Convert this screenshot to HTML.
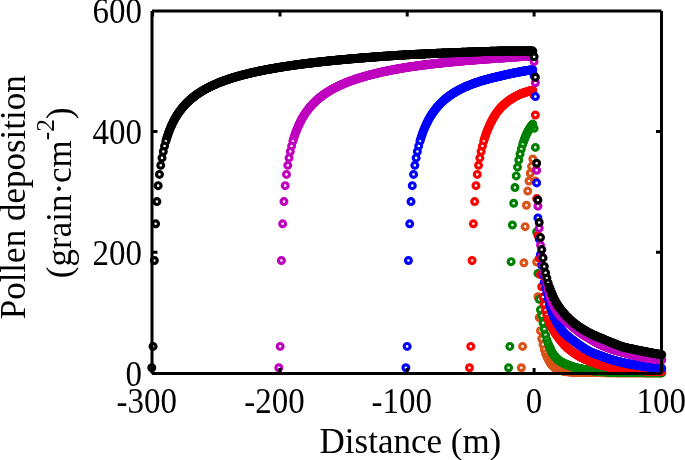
<!DOCTYPE html>
<html><head><meta charset="utf-8"><style>
html,body{margin:0;padding:0;background:#fff;width:685px;height:460px;overflow:hidden}
svg{display:block}
text{font-family:"Liberation Serif",serif;fill:#000}
</style></head><body>
<svg width="685" height="460" viewBox="0 0 685 460">
<rect width="685" height="460" fill="#fff"/>
<g fill="#fff" stroke-width="3.2">
<g stroke="#d95319"><circle cx="534.10" cy="164.19" r="2.9"/><circle cx="535.38" cy="181.09" r="2.9"/><circle cx="536.65" cy="261.96" r="2.9"/><circle cx="537.93" cy="296.72" r="2.9"/><circle cx="539.21" cy="317.48" r="2.9"/><circle cx="540.48" cy="330.75" r="2.9"/><circle cx="541.76" cy="338.72" r="2.9"/><circle cx="543.03" cy="344.58" r="2.9"/><circle cx="544.31" cy="349.83" r="2.9"/><circle cx="545.59" cy="353.64" r="2.9"/><circle cx="546.86" cy="356.71" r="2.9"/><circle cx="548.14" cy="359.32" r="2.9"/><circle cx="549.42" cy="361.53" r="2.9"/><circle cx="550.05" cy="362.53" r="2.9"/><circle cx="550.69" cy="363.45" r="2.9"/><circle cx="551.33" cy="364.30" r="2.9"/><circle cx="551.97" cy="365.07" r="2.9"/><circle cx="552.61" cy="365.76" r="2.9"/><circle cx="553.24" cy="366.36" r="2.9"/><circle cx="553.88" cy="366.90" r="2.9"/><circle cx="554.52" cy="367.38" r="2.9"/><circle cx="555.16" cy="367.82" r="2.9"/><circle cx="555.80" cy="368.22" r="2.9"/><circle cx="556.44" cy="368.59" r="2.9"/><circle cx="557.07" cy="368.92" r="2.9"/><circle cx="557.71" cy="369.22" r="2.9"/><circle cx="558.35" cy="369.50" r="2.9"/><circle cx="558.99" cy="369.75" r="2.9"/><circle cx="559.63" cy="369.98" r="2.9"/><circle cx="560.26" cy="370.20" r="2.9"/><circle cx="560.90" cy="370.40" r="2.9"/><circle cx="561.54" cy="370.58" r="2.9"/><circle cx="562.18" cy="370.75" r="2.9"/><circle cx="562.82" cy="370.91" r="2.9"/><circle cx="563.45" cy="371.05" r="2.9"/><circle cx="564.09" cy="371.18" r="2.9"/><circle cx="564.73" cy="371.29" r="2.9"/><circle cx="565.37" cy="371.40" r="2.9"/><circle cx="566.01" cy="371.49" r="2.9"/><circle cx="566.65" cy="371.58" r="2.9"/><circle cx="567.28" cy="371.66" r="2.9"/><circle cx="567.92" cy="371.74" r="2.9"/><circle cx="568.56" cy="371.81" r="2.9"/><circle cx="569.20" cy="371.87" r="2.9"/><circle cx="569.84" cy="371.93" r="2.9"/><circle cx="570.47" cy="371.98" r="2.9"/><circle cx="571.11" cy="372.03" r="2.9"/><circle cx="571.75" cy="372.06" r="2.9"/><circle cx="572.39" cy="372.09" r="2.9"/><circle cx="573.03" cy="372.12" r="2.9"/><circle cx="573.67" cy="372.15" r="2.9"/><circle cx="574.30" cy="372.17" r="2.9"/><circle cx="574.94" cy="372.19" r="2.9"/><circle cx="575.58" cy="372.22" r="2.9"/><circle cx="576.22" cy="372.24" r="2.9"/><circle cx="576.86" cy="372.26" r="2.9"/><circle cx="577.49" cy="372.27" r="2.9"/><circle cx="578.13" cy="372.29" r="2.9"/><circle cx="578.77" cy="372.31" r="2.9"/><circle cx="579.41" cy="372.32" r="2.9"/><circle cx="580.05" cy="372.34" r="2.9"/><circle cx="580.68" cy="372.35" r="2.9"/><circle cx="581.32" cy="372.37" r="2.9"/><circle cx="581.96" cy="372.38" r="2.9"/><circle cx="582.60" cy="372.39" r="2.9"/><circle cx="583.24" cy="372.40" r="2.9"/><circle cx="583.88" cy="372.41" r="2.9"/><circle cx="584.51" cy="372.42" r="2.9"/><circle cx="585.15" cy="372.44" r="2.9"/><circle cx="585.79" cy="372.45" r="2.9"/><circle cx="586.43" cy="372.45" r="2.9"/><circle cx="587.07" cy="372.46" r="2.9"/><circle cx="587.70" cy="372.47" r="2.9"/><circle cx="588.34" cy="372.48" r="2.9"/><circle cx="588.98" cy="372.49" r="2.9"/><circle cx="589.62" cy="372.50" r="2.9"/><circle cx="590.26" cy="372.50" r="2.9"/><circle cx="590.90" cy="372.51" r="2.9"/><circle cx="591.53" cy="372.52" r="2.9"/><circle cx="592.17" cy="372.52" r="2.9"/><circle cx="592.81" cy="372.53" r="2.9"/><circle cx="593.45" cy="372.54" r="2.9"/><circle cx="594.09" cy="372.54" r="2.9"/><circle cx="594.72" cy="372.55" r="2.9"/><circle cx="595.36" cy="372.56" r="2.9"/><circle cx="596.00" cy="372.56" r="2.9"/><circle cx="596.64" cy="372.57" r="2.9"/><circle cx="597.28" cy="372.57" r="2.9"/><circle cx="597.91" cy="372.58" r="2.9"/><circle cx="598.55" cy="372.58" r="2.9"/><circle cx="599.19" cy="372.59" r="2.9"/><circle cx="599.83" cy="372.59" r="2.9"/><circle cx="600.47" cy="372.60" r="2.9"/><circle cx="601.11" cy="372.60" r="2.9"/><circle cx="601.74" cy="372.61" r="2.9"/><circle cx="602.38" cy="372.61" r="2.9"/><circle cx="603.02" cy="372.62" r="2.9"/><circle cx="603.66" cy="372.62" r="2.9"/><circle cx="604.30" cy="372.63" r="2.9"/><circle cx="604.93" cy="372.63" r="2.9"/><circle cx="605.57" cy="372.64" r="2.9"/><circle cx="606.21" cy="372.64" r="2.9"/><circle cx="606.85" cy="372.64" r="2.9"/><circle cx="607.49" cy="372.65" r="2.9"/><circle cx="608.13" cy="372.65" r="2.9"/><circle cx="608.76" cy="372.66" r="2.9"/><circle cx="609.40" cy="372.66" r="2.9"/><circle cx="610.04" cy="372.67" r="2.9"/><circle cx="610.68" cy="372.67" r="2.9"/><circle cx="611.32" cy="372.67" r="2.9"/><circle cx="611.95" cy="372.68" r="2.9"/><circle cx="612.59" cy="372.68" r="2.9"/><circle cx="613.23" cy="372.68" r="2.9"/><circle cx="613.87" cy="372.69" r="2.9"/><circle cx="614.51" cy="372.69" r="2.9"/><circle cx="615.15" cy="372.69" r="2.9"/><circle cx="615.78" cy="372.70" r="2.9"/><circle cx="616.42" cy="372.70" r="2.9"/><circle cx="617.06" cy="372.71" r="2.9"/><circle cx="617.70" cy="372.71" r="2.9"/><circle cx="618.34" cy="372.71" r="2.9"/><circle cx="618.97" cy="372.71" r="2.9"/><circle cx="619.61" cy="372.72" r="2.9"/><circle cx="620.25" cy="372.72" r="2.9"/><circle cx="620.89" cy="372.72" r="2.9"/><circle cx="621.53" cy="372.73" r="2.9"/><circle cx="622.16" cy="372.73" r="2.9"/><circle cx="622.80" cy="372.73" r="2.9"/><circle cx="623.44" cy="372.74" r="2.9"/><circle cx="624.08" cy="372.74" r="2.9"/><circle cx="624.72" cy="372.74" r="2.9"/><circle cx="625.36" cy="372.74" r="2.9"/><circle cx="625.99" cy="372.75" r="2.9"/><circle cx="626.63" cy="372.75" r="2.9"/><circle cx="627.27" cy="372.75" r="2.9"/><circle cx="627.91" cy="372.75" r="2.9"/><circle cx="628.55" cy="372.76" r="2.9"/><circle cx="629.18" cy="372.76" r="2.9"/><circle cx="629.82" cy="372.76" r="2.9"/><circle cx="630.46" cy="372.76" r="2.9"/><circle cx="631.10" cy="372.76" r="2.9"/><circle cx="631.74" cy="372.77" r="2.9"/><circle cx="632.38" cy="372.77" r="2.9"/><circle cx="633.01" cy="372.77" r="2.9"/><circle cx="633.65" cy="372.77" r="2.9"/><circle cx="634.29" cy="372.78" r="2.9"/><circle cx="634.93" cy="372.78" r="2.9"/><circle cx="635.57" cy="372.78" r="2.9"/><circle cx="636.20" cy="372.78" r="2.9"/><circle cx="636.84" cy="372.78" r="2.9"/><circle cx="637.48" cy="372.78" r="2.9"/><circle cx="638.12" cy="372.79" r="2.9"/><circle cx="638.76" cy="372.79" r="2.9"/><circle cx="639.39" cy="372.79" r="2.9"/><circle cx="640.03" cy="372.79" r="2.9"/><circle cx="640.67" cy="372.79" r="2.9"/><circle cx="641.31" cy="372.79" r="2.9"/><circle cx="641.95" cy="372.79" r="2.9"/><circle cx="642.59" cy="372.80" r="2.9"/><circle cx="643.22" cy="372.80" r="2.9"/><circle cx="643.86" cy="372.80" r="2.9"/><circle cx="644.50" cy="372.80" r="2.9"/><circle cx="645.14" cy="372.80" r="2.9"/><circle cx="645.78" cy="372.80" r="2.9"/><circle cx="646.41" cy="372.80" r="2.9"/><circle cx="647.05" cy="372.80" r="2.9"/><circle cx="647.69" cy="372.81" r="2.9"/><circle cx="648.33" cy="372.81" r="2.9"/><circle cx="648.97" cy="372.81" r="2.9"/><circle cx="649.61" cy="372.81" r="2.9"/><circle cx="650.24" cy="372.81" r="2.9"/><circle cx="650.88" cy="372.81" r="2.9"/><circle cx="651.52" cy="372.81" r="2.9"/><circle cx="652.16" cy="372.81" r="2.9"/><circle cx="652.80" cy="372.81" r="2.9"/><circle cx="653.43" cy="372.81" r="2.9"/><circle cx="654.07" cy="372.81" r="2.9"/><circle cx="654.71" cy="372.81" r="2.9"/><circle cx="655.35" cy="372.82" r="2.9"/><circle cx="655.99" cy="372.82" r="2.9"/><circle cx="656.62" cy="372.82" r="2.9"/><circle cx="657.26" cy="372.82" r="2.9"/><circle cx="657.90" cy="372.82" r="2.9"/><circle cx="658.54" cy="372.82" r="2.9"/><circle cx="659.18" cy="372.82" r="2.9"/><circle cx="659.82" cy="372.82" r="2.9"/><circle cx="660.45" cy="372.82" r="2.9"/><circle cx="661.09" cy="372.82" r="2.9"/><circle cx="661.73" cy="372.82" r="2.9"/><circle cx="532.82" cy="159.02" r="2.9"/><circle cx="531.55" cy="166.33" r="2.9"/><circle cx="530.27" cy="173.22" r="2.9"/><circle cx="528.99" cy="181.05" r="2.9"/><circle cx="527.72" cy="191.08" r="2.9"/><circle cx="526.44" cy="205.23" r="2.9"/><circle cx="525.17" cy="226.65" r="2.9"/><circle cx="523.89" cy="262.86" r="2.9"/><circle cx="522.61" cy="346.39" r="2.9"/><circle cx="521.34" cy="367.75" r="2.9"/></g>
<g stroke="#008000"><circle cx="534.10" cy="128.34" r="2.9"/><circle cx="535.38" cy="147.41" r="2.9"/><circle cx="536.65" cy="232.02" r="2.9"/><circle cx="537.93" cy="273.42" r="2.9"/><circle cx="539.21" cy="299.37" r="2.9"/><circle cx="540.48" cy="309.63" r="2.9"/><circle cx="541.76" cy="315.67" r="2.9"/><circle cx="543.03" cy="322.79" r="2.9"/><circle cx="544.31" cy="329.00" r="2.9"/><circle cx="545.59" cy="335.10" r="2.9"/><circle cx="546.86" cy="339.69" r="2.9"/><circle cx="548.14" cy="343.31" r="2.9"/><circle cx="549.42" cy="346.45" r="2.9"/><circle cx="550.05" cy="347.96" r="2.9"/><circle cx="550.69" cy="349.44" r="2.9"/><circle cx="551.33" cy="350.83" r="2.9"/><circle cx="551.97" cy="352.11" r="2.9"/><circle cx="552.61" cy="353.27" r="2.9"/><circle cx="553.24" cy="354.29" r="2.9"/><circle cx="553.88" cy="355.18" r="2.9"/><circle cx="554.52" cy="355.97" r="2.9"/><circle cx="555.16" cy="356.69" r="2.9"/><circle cx="555.80" cy="357.38" r="2.9"/><circle cx="556.44" cy="358.04" r="2.9"/><circle cx="557.07" cy="358.70" r="2.9"/><circle cx="557.71" cy="359.32" r="2.9"/><circle cx="558.35" cy="359.91" r="2.9"/><circle cx="558.99" cy="360.45" r="2.9"/><circle cx="559.63" cy="360.93" r="2.9"/><circle cx="560.26" cy="361.36" r="2.9"/><circle cx="560.90" cy="361.76" r="2.9"/><circle cx="561.54" cy="362.12" r="2.9"/><circle cx="562.18" cy="362.47" r="2.9"/><circle cx="562.82" cy="362.79" r="2.9"/><circle cx="563.45" cy="363.10" r="2.9"/><circle cx="564.09" cy="363.39" r="2.9"/><circle cx="564.73" cy="363.68" r="2.9"/><circle cx="565.37" cy="363.97" r="2.9"/><circle cx="566.01" cy="364.25" r="2.9"/><circle cx="566.65" cy="364.53" r="2.9"/><circle cx="567.28" cy="364.80" r="2.9"/><circle cx="567.92" cy="365.06" r="2.9"/><circle cx="568.56" cy="365.31" r="2.9"/><circle cx="569.20" cy="365.55" r="2.9"/><circle cx="569.84" cy="365.79" r="2.9"/><circle cx="570.47" cy="366.02" r="2.9"/><circle cx="571.11" cy="366.24" r="2.9"/><circle cx="571.75" cy="366.46" r="2.9"/><circle cx="572.39" cy="366.66" r="2.9"/><circle cx="573.03" cy="366.86" r="2.9"/><circle cx="573.67" cy="367.06" r="2.9"/><circle cx="574.30" cy="367.25" r="2.9"/><circle cx="574.94" cy="367.43" r="2.9"/><circle cx="575.58" cy="367.61" r="2.9"/><circle cx="576.22" cy="367.78" r="2.9"/><circle cx="576.86" cy="367.94" r="2.9"/><circle cx="577.49" cy="368.10" r="2.9"/><circle cx="578.13" cy="368.26" r="2.9"/><circle cx="578.77" cy="368.41" r="2.9"/><circle cx="579.41" cy="368.56" r="2.9"/><circle cx="580.05" cy="368.70" r="2.9"/><circle cx="580.68" cy="368.83" r="2.9"/><circle cx="581.32" cy="368.97" r="2.9"/><circle cx="581.96" cy="369.10" r="2.9"/><circle cx="582.60" cy="369.22" r="2.9"/><circle cx="583.24" cy="369.34" r="2.9"/><circle cx="583.88" cy="369.46" r="2.9"/><circle cx="584.51" cy="369.57" r="2.9"/><circle cx="585.15" cy="369.68" r="2.9"/><circle cx="585.79" cy="369.79" r="2.9"/><circle cx="586.43" cy="369.89" r="2.9"/><circle cx="587.07" cy="369.99" r="2.9"/><circle cx="587.70" cy="370.09" r="2.9"/><circle cx="588.34" cy="370.19" r="2.9"/><circle cx="588.98" cy="370.28" r="2.9"/><circle cx="589.62" cy="370.38" r="2.9"/><circle cx="590.26" cy="370.46" r="2.9"/><circle cx="590.90" cy="370.55" r="2.9"/><circle cx="591.53" cy="370.63" r="2.9"/><circle cx="592.17" cy="370.71" r="2.9"/><circle cx="592.81" cy="370.79" r="2.9"/><circle cx="593.45" cy="370.86" r="2.9"/><circle cx="594.09" cy="370.93" r="2.9"/><circle cx="594.72" cy="371.00" r="2.9"/><circle cx="595.36" cy="371.06" r="2.9"/><circle cx="596.00" cy="371.13" r="2.9"/><circle cx="596.64" cy="371.19" r="2.9"/><circle cx="597.28" cy="371.24" r="2.9"/><circle cx="597.91" cy="371.30" r="2.9"/><circle cx="598.55" cy="371.35" r="2.9"/><circle cx="599.19" cy="371.40" r="2.9"/><circle cx="599.83" cy="371.45" r="2.9"/><circle cx="600.47" cy="371.49" r="2.9"/><circle cx="601.11" cy="371.53" r="2.9"/><circle cx="601.74" cy="371.58" r="2.9"/><circle cx="602.38" cy="371.62" r="2.9"/><circle cx="603.02" cy="371.66" r="2.9"/><circle cx="603.66" cy="371.70" r="2.9"/><circle cx="604.30" cy="371.73" r="2.9"/><circle cx="604.93" cy="371.77" r="2.9"/><circle cx="605.57" cy="371.80" r="2.9"/><circle cx="606.21" cy="371.84" r="2.9"/><circle cx="606.85" cy="371.87" r="2.9"/><circle cx="607.49" cy="371.90" r="2.9"/><circle cx="608.13" cy="371.93" r="2.9"/><circle cx="608.76" cy="371.96" r="2.9"/><circle cx="609.40" cy="371.99" r="2.9"/><circle cx="610.04" cy="372.02" r="2.9"/><circle cx="610.68" cy="372.05" r="2.9"/><circle cx="611.32" cy="372.07" r="2.9"/><circle cx="611.95" cy="372.10" r="2.9"/><circle cx="612.59" cy="372.12" r="2.9"/><circle cx="613.23" cy="372.14" r="2.9"/><circle cx="613.87" cy="372.17" r="2.9"/><circle cx="614.51" cy="372.19" r="2.9"/><circle cx="615.15" cy="372.21" r="2.9"/><circle cx="615.78" cy="372.23" r="2.9"/><circle cx="616.42" cy="372.25" r="2.9"/><circle cx="617.06" cy="372.26" r="2.9"/><circle cx="617.70" cy="372.28" r="2.9"/><circle cx="618.34" cy="372.30" r="2.9"/><circle cx="618.97" cy="372.31" r="2.9"/><circle cx="619.61" cy="372.32" r="2.9"/><circle cx="620.25" cy="372.34" r="2.9"/><circle cx="620.89" cy="372.35" r="2.9"/><circle cx="621.53" cy="372.36" r="2.9"/><circle cx="622.16" cy="372.38" r="2.9"/><circle cx="622.80" cy="372.39" r="2.9"/><circle cx="623.44" cy="372.40" r="2.9"/><circle cx="624.08" cy="372.41" r="2.9"/><circle cx="624.72" cy="372.42" r="2.9"/><circle cx="625.36" cy="372.43" r="2.9"/><circle cx="625.99" cy="372.43" r="2.9"/><circle cx="626.63" cy="372.44" r="2.9"/><circle cx="627.27" cy="372.45" r="2.9"/><circle cx="627.91" cy="372.46" r="2.9"/><circle cx="628.55" cy="372.47" r="2.9"/><circle cx="629.18" cy="372.48" r="2.9"/><circle cx="629.82" cy="372.49" r="2.9"/><circle cx="630.46" cy="372.49" r="2.9"/><circle cx="631.10" cy="372.50" r="2.9"/><circle cx="631.74" cy="372.51" r="2.9"/><circle cx="632.38" cy="372.52" r="2.9"/><circle cx="633.01" cy="372.52" r="2.9"/><circle cx="633.65" cy="372.53" r="2.9"/><circle cx="634.29" cy="372.54" r="2.9"/><circle cx="634.93" cy="372.55" r="2.9"/><circle cx="635.57" cy="372.55" r="2.9"/><circle cx="636.20" cy="372.56" r="2.9"/><circle cx="636.84" cy="372.56" r="2.9"/><circle cx="637.48" cy="372.57" r="2.9"/><circle cx="638.12" cy="372.58" r="2.9"/><circle cx="638.76" cy="372.58" r="2.9"/><circle cx="639.39" cy="372.59" r="2.9"/><circle cx="640.03" cy="372.59" r="2.9"/><circle cx="640.67" cy="372.60" r="2.9"/><circle cx="641.31" cy="372.60" r="2.9"/><circle cx="641.95" cy="372.61" r="2.9"/><circle cx="642.59" cy="372.61" r="2.9"/><circle cx="643.22" cy="372.62" r="2.9"/><circle cx="643.86" cy="372.62" r="2.9"/><circle cx="644.50" cy="372.63" r="2.9"/><circle cx="645.14" cy="372.63" r="2.9"/><circle cx="645.78" cy="372.64" r="2.9"/><circle cx="646.41" cy="372.64" r="2.9"/><circle cx="647.05" cy="372.64" r="2.9"/><circle cx="647.69" cy="372.65" r="2.9"/><circle cx="648.33" cy="372.65" r="2.9"/><circle cx="648.97" cy="372.66" r="2.9"/><circle cx="649.61" cy="372.66" r="2.9"/><circle cx="650.24" cy="372.66" r="2.9"/><circle cx="650.88" cy="372.67" r="2.9"/><circle cx="651.52" cy="372.67" r="2.9"/><circle cx="652.16" cy="372.67" r="2.9"/><circle cx="652.80" cy="372.67" r="2.9"/><circle cx="653.43" cy="372.68" r="2.9"/><circle cx="654.07" cy="372.68" r="2.9"/><circle cx="654.71" cy="372.68" r="2.9"/><circle cx="655.35" cy="372.68" r="2.9"/><circle cx="655.99" cy="372.69" r="2.9"/><circle cx="656.62" cy="372.69" r="2.9"/><circle cx="657.26" cy="372.69" r="2.9"/><circle cx="657.90" cy="372.69" r="2.9"/><circle cx="658.54" cy="372.69" r="2.9"/><circle cx="659.18" cy="372.69" r="2.9"/><circle cx="659.82" cy="372.70" r="2.9"/><circle cx="660.45" cy="372.70" r="2.9"/><circle cx="661.09" cy="372.70" r="2.9"/><circle cx="661.73" cy="372.70" r="2.9"/><circle cx="532.82" cy="124.07" r="2.9"/><circle cx="532.19" cy="124.85" r="2.9"/><circle cx="531.55" cy="125.67" r="2.9"/><circle cx="530.91" cy="126.54" r="2.9"/><circle cx="530.27" cy="127.45" r="2.9"/><circle cx="529.63" cy="128.41" r="2.9"/><circle cx="528.99" cy="129.43" r="2.9"/><circle cx="528.36" cy="130.51" r="2.9"/><circle cx="527.72" cy="131.64" r="2.9"/><circle cx="527.08" cy="132.96" r="2.9"/><circle cx="526.44" cy="134.34" r="2.9"/><circle cx="525.80" cy="135.80" r="2.9"/><circle cx="525.17" cy="137.35" r="2.9"/><circle cx="524.53" cy="139.00" r="2.9"/><circle cx="523.89" cy="140.74" r="2.9"/><circle cx="523.25" cy="142.60" r="2.9"/><circle cx="522.61" cy="144.58" r="2.9"/><circle cx="521.34" cy="148.97" r="2.9"/><circle cx="520.06" cy="153.95" r="2.9"/><circle cx="518.78" cy="160.12" r="2.9"/><circle cx="517.51" cy="167.18" r="2.9"/><circle cx="516.23" cy="175.92" r="2.9"/><circle cx="514.96" cy="187.45" r="2.9"/><circle cx="513.68" cy="203.30" r="2.9"/><circle cx="512.40" cy="225.02" r="2.9"/><circle cx="511.13" cy="261.65" r="2.9"/><circle cx="509.85" cy="346.39" r="2.9"/><circle cx="508.57" cy="367.75" r="2.9"/></g>
<g stroke="#ff0000"><circle cx="534.10" cy="95.39" r="2.9"/><circle cx="535.38" cy="115.00" r="2.9"/><circle cx="536.65" cy="198.59" r="2.9"/><circle cx="537.93" cy="235.40" r="2.9"/><circle cx="539.21" cy="258.33" r="2.9"/><circle cx="540.48" cy="274.63" r="2.9"/><circle cx="541.76" cy="286.70" r="2.9"/><circle cx="543.03" cy="296.96" r="2.9"/><circle cx="544.31" cy="304.20" r="2.9"/><circle cx="545.59" cy="310.24" r="2.9"/><circle cx="546.86" cy="315.06" r="2.9"/><circle cx="548.14" cy="318.99" r="2.9"/><circle cx="549.42" cy="322.31" r="2.9"/><circle cx="550.05" cy="323.76" r="2.9"/><circle cx="550.69" cy="325.12" r="2.9"/><circle cx="551.33" cy="326.39" r="2.9"/><circle cx="551.97" cy="327.60" r="2.9"/><circle cx="552.61" cy="328.74" r="2.9"/><circle cx="553.24" cy="329.85" r="2.9"/><circle cx="553.88" cy="330.92" r="2.9"/><circle cx="554.52" cy="331.96" r="2.9"/><circle cx="555.16" cy="332.98" r="2.9"/><circle cx="555.80" cy="333.95" r="2.9"/><circle cx="556.44" cy="334.89" r="2.9"/><circle cx="557.07" cy="335.79" r="2.9"/><circle cx="557.71" cy="336.67" r="2.9"/><circle cx="558.35" cy="337.53" r="2.9"/><circle cx="558.99" cy="338.37" r="2.9"/><circle cx="559.63" cy="339.20" r="2.9"/><circle cx="560.26" cy="340.02" r="2.9"/><circle cx="560.90" cy="340.83" r="2.9"/><circle cx="561.54" cy="341.62" r="2.9"/><circle cx="562.18" cy="342.39" r="2.9"/><circle cx="562.82" cy="343.14" r="2.9"/><circle cx="563.45" cy="343.87" r="2.9"/><circle cx="564.09" cy="344.57" r="2.9"/><circle cx="564.73" cy="345.24" r="2.9"/><circle cx="565.37" cy="345.89" r="2.9"/><circle cx="566.01" cy="346.51" r="2.9"/><circle cx="566.65" cy="347.12" r="2.9"/><circle cx="567.28" cy="347.71" r="2.9"/><circle cx="567.92" cy="348.28" r="2.9"/><circle cx="568.56" cy="348.84" r="2.9"/><circle cx="569.20" cy="349.38" r="2.9"/><circle cx="569.84" cy="349.91" r="2.9"/><circle cx="570.47" cy="350.42" r="2.9"/><circle cx="571.11" cy="350.92" r="2.9"/><circle cx="571.75" cy="351.40" r="2.9"/><circle cx="572.39" cy="351.88" r="2.9"/><circle cx="573.03" cy="352.34" r="2.9"/><circle cx="573.67" cy="352.79" r="2.9"/><circle cx="574.30" cy="353.23" r="2.9"/><circle cx="574.94" cy="353.65" r="2.9"/><circle cx="575.58" cy="354.07" r="2.9"/><circle cx="576.22" cy="354.47" r="2.9"/><circle cx="576.86" cy="354.87" r="2.9"/><circle cx="577.49" cy="355.25" r="2.9"/><circle cx="578.13" cy="355.63" r="2.9"/><circle cx="578.77" cy="355.99" r="2.9"/><circle cx="579.41" cy="356.35" r="2.9"/><circle cx="580.05" cy="356.71" r="2.9"/><circle cx="580.68" cy="357.05" r="2.9"/><circle cx="581.32" cy="357.38" r="2.9"/><circle cx="581.96" cy="357.71" r="2.9"/><circle cx="582.60" cy="358.02" r="2.9"/><circle cx="583.24" cy="358.33" r="2.9"/><circle cx="583.88" cy="358.63" r="2.9"/><circle cx="584.51" cy="358.93" r="2.9"/><circle cx="585.15" cy="359.22" r="2.9"/><circle cx="585.79" cy="359.50" r="2.9"/><circle cx="586.43" cy="359.78" r="2.9"/><circle cx="587.07" cy="360.05" r="2.9"/><circle cx="587.70" cy="360.32" r="2.9"/><circle cx="588.34" cy="360.58" r="2.9"/><circle cx="588.98" cy="360.84" r="2.9"/><circle cx="589.62" cy="361.09" r="2.9"/><circle cx="590.26" cy="361.34" r="2.9"/><circle cx="590.90" cy="361.59" r="2.9"/><circle cx="591.53" cy="361.84" r="2.9"/><circle cx="592.17" cy="362.08" r="2.9"/><circle cx="592.81" cy="362.32" r="2.9"/><circle cx="593.45" cy="362.55" r="2.9"/><circle cx="594.09" cy="362.78" r="2.9"/><circle cx="594.72" cy="363.01" r="2.9"/><circle cx="595.36" cy="363.24" r="2.9"/><circle cx="596.00" cy="363.45" r="2.9"/><circle cx="596.64" cy="363.67" r="2.9"/><circle cx="597.28" cy="363.88" r="2.9"/><circle cx="597.91" cy="364.08" r="2.9"/><circle cx="598.55" cy="364.28" r="2.9"/><circle cx="599.19" cy="364.48" r="2.9"/><circle cx="599.83" cy="364.67" r="2.9"/><circle cx="600.47" cy="364.85" r="2.9"/><circle cx="601.11" cy="365.03" r="2.9"/><circle cx="601.74" cy="365.21" r="2.9"/><circle cx="602.38" cy="365.38" r="2.9"/><circle cx="603.02" cy="365.54" r="2.9"/><circle cx="603.66" cy="365.71" r="2.9"/><circle cx="604.30" cy="365.87" r="2.9"/><circle cx="604.93" cy="366.02" r="2.9"/><circle cx="605.57" cy="366.17" r="2.9"/><circle cx="606.21" cy="366.32" r="2.9"/><circle cx="606.85" cy="366.47" r="2.9"/><circle cx="607.49" cy="366.61" r="2.9"/><circle cx="608.13" cy="366.75" r="2.9"/><circle cx="608.76" cy="366.88" r="2.9"/><circle cx="609.40" cy="367.01" r="2.9"/><circle cx="610.04" cy="367.14" r="2.9"/><circle cx="610.68" cy="367.27" r="2.9"/><circle cx="611.32" cy="367.39" r="2.9"/><circle cx="611.95" cy="367.51" r="2.9"/><circle cx="612.59" cy="367.63" r="2.9"/><circle cx="613.23" cy="367.75" r="2.9"/><circle cx="613.87" cy="367.87" r="2.9"/><circle cx="614.51" cy="367.98" r="2.9"/><circle cx="615.15" cy="368.09" r="2.9"/><circle cx="615.78" cy="368.20" r="2.9"/><circle cx="616.42" cy="368.30" r="2.9"/><circle cx="617.06" cy="368.41" r="2.9"/><circle cx="617.70" cy="368.51" r="2.9"/><circle cx="618.34" cy="368.60" r="2.9"/><circle cx="618.97" cy="368.70" r="2.9"/><circle cx="619.61" cy="368.79" r="2.9"/><circle cx="620.25" cy="368.87" r="2.9"/><circle cx="620.89" cy="368.96" r="2.9"/><circle cx="621.53" cy="369.04" r="2.9"/><circle cx="622.16" cy="369.11" r="2.9"/><circle cx="622.80" cy="369.19" r="2.9"/><circle cx="623.44" cy="369.26" r="2.9"/><circle cx="624.08" cy="369.33" r="2.9"/><circle cx="624.72" cy="369.39" r="2.9"/><circle cx="625.36" cy="369.45" r="2.9"/><circle cx="625.99" cy="369.51" r="2.9"/><circle cx="626.63" cy="369.57" r="2.9"/><circle cx="627.27" cy="369.63" r="2.9"/><circle cx="627.91" cy="369.68" r="2.9"/><circle cx="628.55" cy="369.73" r="2.9"/><circle cx="629.18" cy="369.78" r="2.9"/><circle cx="629.82" cy="369.83" r="2.9"/><circle cx="630.46" cy="369.88" r="2.9"/><circle cx="631.10" cy="369.93" r="2.9"/><circle cx="631.74" cy="369.98" r="2.9"/><circle cx="632.38" cy="370.02" r="2.9"/><circle cx="633.01" cy="370.07" r="2.9"/><circle cx="633.65" cy="370.11" r="2.9"/><circle cx="634.29" cy="370.15" r="2.9"/><circle cx="634.93" cy="370.20" r="2.9"/><circle cx="635.57" cy="370.24" r="2.9"/><circle cx="636.20" cy="370.28" r="2.9"/><circle cx="636.84" cy="370.33" r="2.9"/><circle cx="637.48" cy="370.37" r="2.9"/><circle cx="638.12" cy="370.41" r="2.9"/><circle cx="638.76" cy="370.45" r="2.9"/><circle cx="639.39" cy="370.49" r="2.9"/><circle cx="640.03" cy="370.53" r="2.9"/><circle cx="640.67" cy="370.57" r="2.9"/><circle cx="641.31" cy="370.61" r="2.9"/><circle cx="641.95" cy="370.65" r="2.9"/><circle cx="642.59" cy="370.69" r="2.9"/><circle cx="643.22" cy="370.72" r="2.9"/><circle cx="643.86" cy="370.76" r="2.9"/><circle cx="644.50" cy="370.79" r="2.9"/><circle cx="645.14" cy="370.83" r="2.9"/><circle cx="645.78" cy="370.86" r="2.9"/><circle cx="646.41" cy="370.89" r="2.9"/><circle cx="647.05" cy="370.92" r="2.9"/><circle cx="647.69" cy="370.95" r="2.9"/><circle cx="648.33" cy="370.98" r="2.9"/><circle cx="648.97" cy="371.01" r="2.9"/><circle cx="649.61" cy="371.03" r="2.9"/><circle cx="650.24" cy="371.06" r="2.9"/><circle cx="650.88" cy="371.09" r="2.9"/><circle cx="651.52" cy="371.11" r="2.9"/><circle cx="652.16" cy="371.14" r="2.9"/><circle cx="652.80" cy="371.16" r="2.9"/><circle cx="653.43" cy="371.18" r="2.9"/><circle cx="654.07" cy="371.20" r="2.9"/><circle cx="654.71" cy="371.23" r="2.9"/><circle cx="655.35" cy="371.25" r="2.9"/><circle cx="655.99" cy="371.27" r="2.9"/><circle cx="656.62" cy="371.29" r="2.9"/><circle cx="657.26" cy="371.31" r="2.9"/><circle cx="657.90" cy="371.33" r="2.9"/><circle cx="658.54" cy="371.35" r="2.9"/><circle cx="659.18" cy="371.36" r="2.9"/><circle cx="659.82" cy="371.38" r="2.9"/><circle cx="660.45" cy="371.40" r="2.9"/><circle cx="661.09" cy="371.41" r="2.9"/><circle cx="661.73" cy="371.43" r="2.9"/><circle cx="532.81" cy="90.18" r="2.9"/><circle cx="532.16" cy="90.33" r="2.9"/><circle cx="531.52" cy="90.50" r="2.9"/><circle cx="530.87" cy="90.66" r="2.9"/><circle cx="530.22" cy="90.84" r="2.9"/><circle cx="529.58" cy="91.01" r="2.9"/><circle cx="528.93" cy="91.19" r="2.9"/><circle cx="528.28" cy="91.38" r="2.9"/><circle cx="527.64" cy="91.57" r="2.9"/><circle cx="526.99" cy="91.77" r="2.9"/><circle cx="526.35" cy="91.98" r="2.9"/><circle cx="525.70" cy="92.19" r="2.9"/><circle cx="525.05" cy="92.41" r="2.9"/><circle cx="524.41" cy="92.64" r="2.9"/><circle cx="523.76" cy="92.87" r="2.9"/><circle cx="523.12" cy="93.10" r="2.9"/><circle cx="522.47" cy="93.34" r="2.9"/><circle cx="521.82" cy="93.59" r="2.9"/><circle cx="521.18" cy="93.85" r="2.9"/><circle cx="520.53" cy="94.11" r="2.9"/><circle cx="519.88" cy="94.38" r="2.9"/><circle cx="519.24" cy="94.65" r="2.9"/><circle cx="518.59" cy="94.93" r="2.9"/><circle cx="517.95" cy="95.25" r="2.9"/><circle cx="517.30" cy="95.57" r="2.9"/><circle cx="516.65" cy="95.91" r="2.9"/><circle cx="516.01" cy="96.25" r="2.9"/><circle cx="515.36" cy="96.59" r="2.9"/><circle cx="514.72" cy="96.95" r="2.9"/><circle cx="514.07" cy="97.32" r="2.9"/><circle cx="513.42" cy="97.69" r="2.9"/><circle cx="512.78" cy="98.08" r="2.9"/><circle cx="512.13" cy="98.48" r="2.9"/><circle cx="511.48" cy="98.88" r="2.9"/><circle cx="510.84" cy="99.30" r="2.9"/><circle cx="510.19" cy="99.73" r="2.9"/><circle cx="509.55" cy="100.17" r="2.9"/><circle cx="508.90" cy="100.62" r="2.9"/><circle cx="508.25" cy="101.08" r="2.9"/><circle cx="507.61" cy="101.57" r="2.9"/><circle cx="506.96" cy="102.07" r="2.9"/><circle cx="506.32" cy="102.58" r="2.9"/><circle cx="505.67" cy="103.11" r="2.9"/><circle cx="505.02" cy="103.66" r="2.9"/><circle cx="504.38" cy="104.22" r="2.9"/><circle cx="503.73" cy="104.79" r="2.9"/><circle cx="503.08" cy="105.39" r="2.9"/><circle cx="502.44" cy="106.00" r="2.9"/><circle cx="501.79" cy="106.63" r="2.9"/><circle cx="501.15" cy="107.28" r="2.9"/><circle cx="500.50" cy="107.96" r="2.9"/><circle cx="499.85" cy="108.65" r="2.9"/><circle cx="499.21" cy="109.37" r="2.9"/><circle cx="498.56" cy="110.20" r="2.9"/><circle cx="497.92" cy="111.06" r="2.9"/><circle cx="497.27" cy="111.94" r="2.9"/><circle cx="496.62" cy="112.85" r="2.9"/><circle cx="495.98" cy="113.80" r="2.9"/><circle cx="495.33" cy="114.77" r="2.9"/><circle cx="494.68" cy="115.78" r="2.9"/><circle cx="494.04" cy="116.82" r="2.9"/><circle cx="493.39" cy="117.91" r="2.9"/><circle cx="492.75" cy="119.03" r="2.9"/><circle cx="492.10" cy="120.20" r="2.9"/><circle cx="491.45" cy="121.42" r="2.9"/><circle cx="490.81" cy="122.68" r="2.9"/><circle cx="490.16" cy="124.00" r="2.9"/><circle cx="489.52" cy="125.38" r="2.9"/><circle cx="488.87" cy="126.81" r="2.9"/><circle cx="488.22" cy="128.32" r="2.9"/><circle cx="487.58" cy="129.90" r="2.9"/><circle cx="486.93" cy="131.56" r="2.9"/><circle cx="486.28" cy="133.30" r="2.9"/><circle cx="485.64" cy="135.13" r="2.9"/><circle cx="484.99" cy="137.07" r="2.9"/><circle cx="484.35" cy="139.12" r="2.9"/><circle cx="483.70" cy="141.30" r="2.9"/><circle cx="482.41" cy="146.08" r="2.9"/><circle cx="481.12" cy="151.54" r="2.9"/><circle cx="479.82" cy="157.88" r="2.9"/><circle cx="478.53" cy="165.37" r="2.9"/><circle cx="477.24" cy="174.41" r="2.9"/><circle cx="475.95" cy="185.64" r="2.9"/><circle cx="474.65" cy="201.61" r="2.9"/><circle cx="473.36" cy="223.81" r="2.9"/><circle cx="472.07" cy="260.45" r="2.9"/><circle cx="470.78" cy="346.39" r="2.9"/><circle cx="469.49" cy="367.75" r="2.9"/></g>
<g stroke="#0000ff"><circle cx="534.10" cy="75.78" r="2.9"/><circle cx="535.38" cy="96.60" r="2.9"/><circle cx="536.65" cy="182.90" r="2.9"/><circle cx="537.93" cy="217.90" r="2.9"/><circle cx="539.21" cy="239.02" r="2.9"/><circle cx="540.48" cy="254.35" r="2.9"/><circle cx="541.76" cy="265.58" r="2.9"/><circle cx="543.03" cy="274.67" r="2.9"/><circle cx="544.31" cy="282.11" r="2.9"/><circle cx="545.59" cy="287.80" r="2.9"/><circle cx="546.86" cy="292.98" r="2.9"/><circle cx="548.14" cy="298.69" r="2.9"/><circle cx="549.42" cy="303.90" r="2.9"/><circle cx="550.05" cy="306.08" r="2.9"/><circle cx="550.69" cy="308.13" r="2.9"/><circle cx="551.33" cy="310.05" r="2.9"/><circle cx="551.97" cy="311.85" r="2.9"/><circle cx="552.61" cy="313.55" r="2.9"/><circle cx="553.24" cy="315.15" r="2.9"/><circle cx="553.88" cy="316.66" r="2.9"/><circle cx="554.52" cy="318.08" r="2.9"/><circle cx="555.16" cy="319.43" r="2.9"/><circle cx="555.80" cy="320.70" r="2.9"/><circle cx="556.44" cy="321.91" r="2.9"/><circle cx="557.07" cy="323.06" r="2.9"/><circle cx="557.71" cy="324.15" r="2.9"/><circle cx="558.35" cy="325.19" r="2.9"/><circle cx="558.99" cy="326.18" r="2.9"/><circle cx="559.63" cy="327.13" r="2.9"/><circle cx="560.26" cy="328.05" r="2.9"/><circle cx="560.90" cy="328.93" r="2.9"/><circle cx="561.54" cy="329.78" r="2.9"/><circle cx="562.18" cy="330.59" r="2.9"/><circle cx="562.82" cy="331.36" r="2.9"/><circle cx="563.45" cy="332.10" r="2.9"/><circle cx="564.09" cy="332.80" r="2.9"/><circle cx="564.73" cy="333.47" r="2.9"/><circle cx="565.37" cy="334.10" r="2.9"/><circle cx="566.01" cy="334.70" r="2.9"/><circle cx="566.65" cy="335.27" r="2.9"/><circle cx="567.28" cy="335.81" r="2.9"/><circle cx="567.92" cy="336.34" r="2.9"/><circle cx="568.56" cy="336.85" r="2.9"/><circle cx="569.20" cy="337.35" r="2.9"/><circle cx="569.84" cy="337.84" r="2.9"/><circle cx="570.47" cy="338.33" r="2.9"/><circle cx="571.11" cy="338.82" r="2.9"/><circle cx="571.75" cy="339.31" r="2.9"/><circle cx="572.39" cy="339.81" r="2.9"/><circle cx="573.03" cy="340.31" r="2.9"/><circle cx="573.67" cy="340.81" r="2.9"/><circle cx="574.30" cy="341.31" r="2.9"/><circle cx="574.94" cy="341.80" r="2.9"/><circle cx="575.58" cy="342.29" r="2.9"/><circle cx="576.22" cy="342.77" r="2.9"/><circle cx="576.86" cy="343.25" r="2.9"/><circle cx="577.49" cy="343.72" r="2.9"/><circle cx="578.13" cy="344.19" r="2.9"/><circle cx="578.77" cy="344.65" r="2.9"/><circle cx="579.41" cy="345.10" r="2.9"/><circle cx="580.05" cy="345.54" r="2.9"/><circle cx="580.68" cy="345.98" r="2.9"/><circle cx="581.32" cy="346.42" r="2.9"/><circle cx="581.96" cy="346.85" r="2.9"/><circle cx="582.60" cy="347.29" r="2.9"/><circle cx="583.24" cy="347.71" r="2.9"/><circle cx="583.88" cy="348.14" r="2.9"/><circle cx="584.51" cy="348.55" r="2.9"/><circle cx="585.15" cy="348.96" r="2.9"/><circle cx="585.79" cy="349.36" r="2.9"/><circle cx="586.43" cy="349.75" r="2.9"/><circle cx="587.07" cy="350.14" r="2.9"/><circle cx="587.70" cy="350.51" r="2.9"/><circle cx="588.34" cy="350.87" r="2.9"/><circle cx="588.98" cy="351.22" r="2.9"/><circle cx="589.62" cy="351.55" r="2.9"/><circle cx="590.26" cy="351.87" r="2.9"/><circle cx="590.90" cy="352.18" r="2.9"/><circle cx="591.53" cy="352.48" r="2.9"/><circle cx="592.17" cy="352.76" r="2.9"/><circle cx="592.81" cy="353.03" r="2.9"/><circle cx="593.45" cy="353.29" r="2.9"/><circle cx="594.09" cy="353.53" r="2.9"/><circle cx="594.72" cy="353.77" r="2.9"/><circle cx="595.36" cy="354.00" r="2.9"/><circle cx="596.00" cy="354.23" r="2.9"/><circle cx="596.64" cy="354.45" r="2.9"/><circle cx="597.28" cy="354.68" r="2.9"/><circle cx="597.91" cy="354.90" r="2.9"/><circle cx="598.55" cy="355.12" r="2.9"/><circle cx="599.19" cy="355.34" r="2.9"/><circle cx="599.83" cy="355.57" r="2.9"/><circle cx="600.47" cy="355.80" r="2.9"/><circle cx="601.11" cy="356.04" r="2.9"/><circle cx="601.74" cy="356.27" r="2.9"/><circle cx="602.38" cy="356.51" r="2.9"/><circle cx="603.02" cy="356.75" r="2.9"/><circle cx="603.66" cy="356.99" r="2.9"/><circle cx="604.30" cy="357.22" r="2.9"/><circle cx="604.93" cy="357.46" r="2.9"/><circle cx="605.57" cy="357.69" r="2.9"/><circle cx="606.21" cy="357.92" r="2.9"/><circle cx="606.85" cy="358.15" r="2.9"/><circle cx="607.49" cy="358.37" r="2.9"/><circle cx="608.13" cy="358.59" r="2.9"/><circle cx="608.76" cy="358.81" r="2.9"/><circle cx="609.40" cy="359.02" r="2.9"/><circle cx="610.04" cy="359.22" r="2.9"/><circle cx="610.68" cy="359.42" r="2.9"/><circle cx="611.32" cy="359.62" r="2.9"/><circle cx="611.95" cy="359.81" r="2.9"/><circle cx="612.59" cy="359.99" r="2.9"/><circle cx="613.23" cy="360.18" r="2.9"/><circle cx="613.87" cy="360.36" r="2.9"/><circle cx="614.51" cy="360.54" r="2.9"/><circle cx="615.15" cy="360.71" r="2.9"/><circle cx="615.78" cy="360.88" r="2.9"/><circle cx="616.42" cy="361.05" r="2.9"/><circle cx="617.06" cy="361.22" r="2.9"/><circle cx="617.70" cy="361.38" r="2.9"/><circle cx="618.34" cy="361.54" r="2.9"/><circle cx="618.97" cy="361.70" r="2.9"/><circle cx="619.61" cy="361.86" r="2.9"/><circle cx="620.25" cy="362.01" r="2.9"/><circle cx="620.89" cy="362.16" r="2.9"/><circle cx="621.53" cy="362.31" r="2.9"/><circle cx="622.16" cy="362.45" r="2.9"/><circle cx="622.80" cy="362.60" r="2.9"/><circle cx="623.44" cy="362.74" r="2.9"/><circle cx="624.08" cy="362.88" r="2.9"/><circle cx="624.72" cy="363.02" r="2.9"/><circle cx="625.36" cy="363.15" r="2.9"/><circle cx="625.99" cy="363.28" r="2.9"/><circle cx="626.63" cy="363.42" r="2.9"/><circle cx="627.27" cy="363.54" r="2.9"/><circle cx="627.91" cy="363.67" r="2.9"/><circle cx="628.55" cy="363.79" r="2.9"/><circle cx="629.18" cy="363.92" r="2.9"/><circle cx="629.82" cy="364.04" r="2.9"/><circle cx="630.46" cy="364.16" r="2.9"/><circle cx="631.10" cy="364.27" r="2.9"/><circle cx="631.74" cy="364.39" r="2.9"/><circle cx="632.38" cy="364.50" r="2.9"/><circle cx="633.01" cy="364.62" r="2.9"/><circle cx="633.65" cy="364.73" r="2.9"/><circle cx="634.29" cy="364.84" r="2.9"/><circle cx="634.93" cy="364.94" r="2.9"/><circle cx="635.57" cy="365.05" r="2.9"/><circle cx="636.20" cy="365.15" r="2.9"/><circle cx="636.84" cy="365.26" r="2.9"/><circle cx="637.48" cy="365.36" r="2.9"/><circle cx="638.12" cy="365.46" r="2.9"/><circle cx="638.76" cy="365.56" r="2.9"/><circle cx="639.39" cy="365.66" r="2.9"/><circle cx="640.03" cy="365.76" r="2.9"/><circle cx="640.67" cy="365.86" r="2.9"/><circle cx="641.31" cy="365.95" r="2.9"/><circle cx="641.95" cy="366.05" r="2.9"/><circle cx="642.59" cy="366.14" r="2.9"/><circle cx="643.22" cy="366.23" r="2.9"/><circle cx="643.86" cy="366.32" r="2.9"/><circle cx="644.50" cy="366.41" r="2.9"/><circle cx="645.14" cy="366.49" r="2.9"/><circle cx="645.78" cy="366.58" r="2.9"/><circle cx="646.41" cy="366.66" r="2.9"/><circle cx="647.05" cy="366.74" r="2.9"/><circle cx="647.69" cy="366.82" r="2.9"/><circle cx="648.33" cy="366.89" r="2.9"/><circle cx="648.97" cy="366.96" r="2.9"/><circle cx="649.61" cy="367.04" r="2.9"/><circle cx="650.24" cy="367.11" r="2.9"/><circle cx="650.88" cy="367.18" r="2.9"/><circle cx="651.52" cy="367.25" r="2.9"/><circle cx="652.16" cy="367.31" r="2.9"/><circle cx="652.80" cy="367.38" r="2.9"/><circle cx="653.43" cy="367.44" r="2.9"/><circle cx="654.07" cy="367.50" r="2.9"/><circle cx="654.71" cy="367.57" r="2.9"/><circle cx="655.35" cy="367.63" r="2.9"/><circle cx="655.99" cy="367.69" r="2.9"/><circle cx="656.62" cy="367.75" r="2.9"/><circle cx="657.26" cy="367.80" r="2.9"/><circle cx="657.90" cy="367.86" r="2.9"/><circle cx="658.54" cy="367.91" r="2.9"/><circle cx="659.18" cy="367.97" r="2.9"/><circle cx="659.82" cy="368.02" r="2.9"/><circle cx="660.45" cy="368.07" r="2.9"/><circle cx="661.09" cy="368.12" r="2.9"/><circle cx="661.73" cy="368.17" r="2.9"/><circle cx="532.82" cy="69.75" r="2.9"/><circle cx="532.18" cy="69.84" r="2.9"/><circle cx="531.54" cy="69.92" r="2.9"/><circle cx="530.89" cy="70.01" r="2.9"/><circle cx="530.25" cy="70.09" r="2.9"/><circle cx="529.61" cy="70.18" r="2.9"/><circle cx="528.97" cy="70.27" r="2.9"/><circle cx="528.33" cy="70.36" r="2.9"/><circle cx="527.69" cy="70.45" r="2.9"/><circle cx="527.05" cy="70.56" r="2.9"/><circle cx="526.41" cy="70.67" r="2.9"/><circle cx="525.77" cy="70.78" r="2.9"/><circle cx="525.12" cy="70.89" r="2.9"/><circle cx="524.48" cy="71.00" r="2.9"/><circle cx="523.84" cy="71.12" r="2.9"/><circle cx="523.20" cy="71.23" r="2.9"/><circle cx="522.56" cy="71.35" r="2.9"/><circle cx="521.92" cy="71.47" r="2.9"/><circle cx="521.28" cy="71.59" r="2.9"/><circle cx="520.64" cy="71.71" r="2.9"/><circle cx="519.99" cy="71.83" r="2.9"/><circle cx="519.35" cy="71.95" r="2.9"/><circle cx="518.71" cy="72.07" r="2.9"/><circle cx="518.07" cy="72.19" r="2.9"/><circle cx="517.43" cy="72.32" r="2.9"/><circle cx="516.79" cy="72.44" r="2.9"/><circle cx="516.15" cy="72.57" r="2.9"/><circle cx="515.51" cy="72.69" r="2.9"/><circle cx="514.87" cy="72.82" r="2.9"/><circle cx="514.22" cy="72.95" r="2.9"/><circle cx="513.58" cy="73.08" r="2.9"/><circle cx="512.94" cy="73.21" r="2.9"/><circle cx="512.30" cy="73.35" r="2.9"/><circle cx="511.66" cy="73.48" r="2.9"/><circle cx="511.02" cy="73.61" r="2.9"/><circle cx="510.38" cy="73.75" r="2.9"/><circle cx="509.74" cy="73.89" r="2.9"/><circle cx="509.10" cy="74.03" r="2.9"/><circle cx="508.45" cy="74.17" r="2.9"/><circle cx="507.81" cy="74.31" r="2.9"/><circle cx="507.17" cy="74.45" r="2.9"/><circle cx="506.53" cy="74.59" r="2.9"/><circle cx="505.89" cy="74.74" r="2.9"/><circle cx="505.25" cy="74.89" r="2.9"/><circle cx="504.61" cy="75.03" r="2.9"/><circle cx="503.97" cy="75.18" r="2.9"/><circle cx="503.32" cy="75.33" r="2.9"/><circle cx="502.68" cy="75.48" r="2.9"/><circle cx="502.04" cy="75.64" r="2.9"/><circle cx="501.40" cy="75.79" r="2.9"/><circle cx="500.76" cy="75.95" r="2.9"/><circle cx="500.12" cy="76.11" r="2.9"/><circle cx="499.48" cy="76.27" r="2.9"/><circle cx="498.84" cy="76.41" r="2.9"/><circle cx="498.20" cy="76.55" r="2.9"/><circle cx="497.55" cy="76.69" r="2.9"/><circle cx="496.91" cy="76.84" r="2.9"/><circle cx="496.27" cy="76.98" r="2.9"/><circle cx="495.63" cy="77.13" r="2.9"/><circle cx="494.99" cy="77.28" r="2.9"/><circle cx="494.35" cy="77.43" r="2.9"/><circle cx="493.71" cy="77.59" r="2.9"/><circle cx="493.07" cy="77.74" r="2.9"/><circle cx="492.43" cy="77.90" r="2.9"/><circle cx="491.78" cy="78.06" r="2.9"/><circle cx="491.14" cy="78.22" r="2.9"/><circle cx="490.50" cy="78.39" r="2.9"/><circle cx="489.86" cy="78.55" r="2.9"/><circle cx="489.22" cy="78.72" r="2.9"/><circle cx="488.58" cy="78.89" r="2.9"/><circle cx="487.94" cy="79.06" r="2.9"/><circle cx="487.30" cy="79.23" r="2.9"/><circle cx="486.65" cy="79.41" r="2.9"/><circle cx="486.01" cy="79.59" r="2.9"/><circle cx="485.37" cy="79.77" r="2.9"/><circle cx="484.73" cy="79.95" r="2.9"/><circle cx="484.09" cy="80.14" r="2.9"/><circle cx="483.45" cy="80.32" r="2.9"/><circle cx="482.81" cy="80.51" r="2.9"/><circle cx="482.17" cy="80.71" r="2.9"/><circle cx="481.53" cy="80.90" r="2.9"/><circle cx="480.88" cy="81.10" r="2.9"/><circle cx="480.24" cy="81.30" r="2.9"/><circle cx="479.60" cy="81.50" r="2.9"/><circle cx="478.96" cy="81.71" r="2.9"/><circle cx="478.32" cy="81.92" r="2.9"/><circle cx="477.68" cy="82.13" r="2.9"/><circle cx="477.04" cy="82.34" r="2.9"/><circle cx="476.40" cy="82.56" r="2.9"/><circle cx="475.76" cy="82.78" r="2.9"/><circle cx="475.11" cy="83.00" r="2.9"/><circle cx="474.47" cy="83.23" r="2.9"/><circle cx="473.83" cy="83.46" r="2.9"/><circle cx="473.19" cy="83.70" r="2.9"/><circle cx="472.55" cy="83.93" r="2.9"/><circle cx="471.91" cy="84.17" r="2.9"/><circle cx="471.27" cy="84.42" r="2.9"/><circle cx="470.63" cy="84.67" r="2.9"/><circle cx="469.99" cy="84.92" r="2.9"/><circle cx="469.34" cy="85.17" r="2.9"/><circle cx="468.70" cy="85.43" r="2.9"/><circle cx="468.06" cy="85.70" r="2.9"/><circle cx="467.42" cy="85.96" r="2.9"/><circle cx="466.78" cy="86.24" r="2.9"/><circle cx="466.14" cy="86.51" r="2.9"/><circle cx="465.50" cy="86.79" r="2.9"/><circle cx="464.86" cy="87.08" r="2.9"/><circle cx="464.21" cy="87.37" r="2.9"/><circle cx="463.57" cy="87.67" r="2.9"/><circle cx="462.93" cy="87.97" r="2.9"/><circle cx="462.29" cy="88.27" r="2.9"/><circle cx="461.65" cy="88.58" r="2.9"/><circle cx="461.01" cy="88.90" r="2.9"/><circle cx="460.37" cy="89.22" r="2.9"/><circle cx="459.73" cy="89.55" r="2.9"/><circle cx="459.09" cy="89.89" r="2.9"/><circle cx="458.44" cy="90.24" r="2.9"/><circle cx="457.80" cy="90.59" r="2.9"/><circle cx="457.16" cy="90.95" r="2.9"/><circle cx="456.52" cy="91.32" r="2.9"/><circle cx="455.88" cy="91.69" r="2.9"/><circle cx="455.24" cy="92.07" r="2.9"/><circle cx="454.60" cy="92.46" r="2.9"/><circle cx="453.96" cy="92.86" r="2.9"/><circle cx="453.32" cy="93.26" r="2.9"/><circle cx="452.67" cy="93.67" r="2.9"/><circle cx="452.03" cy="94.09" r="2.9"/><circle cx="451.39" cy="94.52" r="2.9"/><circle cx="450.75" cy="94.95" r="2.9"/><circle cx="450.11" cy="95.40" r="2.9"/><circle cx="449.47" cy="95.85" r="2.9"/><circle cx="448.83" cy="96.32" r="2.9"/><circle cx="448.19" cy="96.79" r="2.9"/><circle cx="447.54" cy="97.28" r="2.9"/><circle cx="446.90" cy="97.78" r="2.9"/><circle cx="446.26" cy="98.28" r="2.9"/><circle cx="445.62" cy="98.80" r="2.9"/><circle cx="444.98" cy="99.33" r="2.9"/><circle cx="444.34" cy="99.88" r="2.9"/><circle cx="443.70" cy="100.45" r="2.9"/><circle cx="443.06" cy="101.03" r="2.9"/><circle cx="442.42" cy="101.63" r="2.9"/><circle cx="441.77" cy="102.25" r="2.9"/><circle cx="441.13" cy="102.88" r="2.9"/><circle cx="440.49" cy="103.53" r="2.9"/><circle cx="439.85" cy="104.19" r="2.9"/><circle cx="439.21" cy="104.87" r="2.9"/><circle cx="438.57" cy="105.57" r="2.9"/><circle cx="437.93" cy="106.29" r="2.9"/><circle cx="437.29" cy="107.03" r="2.9"/><circle cx="436.65" cy="107.79" r="2.9"/><circle cx="436.00" cy="108.57" r="2.9"/><circle cx="435.36" cy="109.37" r="2.9"/><circle cx="434.72" cy="110.20" r="2.9"/><circle cx="434.08" cy="111.06" r="2.9"/><circle cx="433.44" cy="111.94" r="2.9"/><circle cx="432.80" cy="112.85" r="2.9"/><circle cx="432.16" cy="113.80" r="2.9"/><circle cx="431.52" cy="114.77" r="2.9"/><circle cx="430.87" cy="115.78" r="2.9"/><circle cx="430.23" cy="116.82" r="2.9"/><circle cx="429.59" cy="117.91" r="2.9"/><circle cx="428.95" cy="119.03" r="2.9"/><circle cx="428.31" cy="120.20" r="2.9"/><circle cx="427.67" cy="121.42" r="2.9"/><circle cx="427.03" cy="122.68" r="2.9"/><circle cx="426.39" cy="124.00" r="2.9"/><circle cx="425.75" cy="125.38" r="2.9"/><circle cx="425.10" cy="126.81" r="2.9"/><circle cx="424.46" cy="128.32" r="2.9"/><circle cx="423.82" cy="129.90" r="2.9"/><circle cx="423.18" cy="131.56" r="2.9"/><circle cx="422.54" cy="133.30" r="2.9"/><circle cx="421.90" cy="135.13" r="2.9"/><circle cx="421.26" cy="137.07" r="2.9"/><circle cx="420.62" cy="139.12" r="2.9"/><circle cx="419.98" cy="141.30" r="2.9"/><circle cx="418.69" cy="146.08" r="2.9"/><circle cx="417.41" cy="151.54" r="2.9"/><circle cx="416.13" cy="157.88" r="2.9"/><circle cx="414.85" cy="165.37" r="2.9"/><circle cx="413.56" cy="174.41" r="2.9"/><circle cx="412.28" cy="185.64" r="2.9"/><circle cx="411.00" cy="201.61" r="2.9"/><circle cx="409.72" cy="223.81" r="2.9"/><circle cx="408.43" cy="260.45" r="2.9"/><circle cx="407.15" cy="346.39" r="2.9"/><circle cx="405.87" cy="367.75" r="2.9"/></g>
<g stroke="#bf00bf"><circle cx="534.10" cy="61.59" r="2.9"/><circle cx="535.38" cy="82.72" r="2.9"/><circle cx="536.65" cy="170.22" r="2.9"/><circle cx="537.93" cy="206.13" r="2.9"/><circle cx="539.21" cy="228.16" r="2.9"/><circle cx="540.48" cy="245.06" r="2.9"/><circle cx="541.76" cy="256.52" r="2.9"/><circle cx="543.03" cy="265.84" r="2.9"/><circle cx="544.31" cy="273.42" r="2.9"/><circle cx="545.59" cy="279.13" r="2.9"/><circle cx="546.86" cy="284.29" r="2.9"/><circle cx="548.14" cy="290.08" r="2.9"/><circle cx="549.42" cy="295.15" r="2.9"/><circle cx="550.05" cy="297.10" r="2.9"/><circle cx="550.69" cy="298.87" r="2.9"/><circle cx="551.33" cy="300.51" r="2.9"/><circle cx="551.97" cy="302.02" r="2.9"/><circle cx="552.61" cy="303.42" r="2.9"/><circle cx="553.24" cy="304.75" r="2.9"/><circle cx="553.88" cy="306.01" r="2.9"/><circle cx="554.52" cy="307.22" r="2.9"/><circle cx="555.16" cy="308.39" r="2.9"/><circle cx="555.80" cy="309.50" r="2.9"/><circle cx="556.44" cy="310.57" r="2.9"/><circle cx="557.07" cy="311.59" r="2.9"/><circle cx="557.71" cy="312.54" r="2.9"/><circle cx="558.35" cy="313.44" r="2.9"/><circle cx="558.99" cy="314.28" r="2.9"/><circle cx="559.63" cy="315.06" r="2.9"/><circle cx="560.26" cy="315.78" r="2.9"/><circle cx="560.90" cy="316.44" r="2.9"/><circle cx="561.54" cy="317.05" r="2.9"/><circle cx="562.18" cy="317.64" r="2.9"/><circle cx="562.82" cy="318.20" r="2.9"/><circle cx="563.45" cy="318.76" r="2.9"/><circle cx="564.09" cy="319.32" r="2.9"/><circle cx="564.73" cy="319.89" r="2.9"/><circle cx="565.37" cy="320.47" r="2.9"/><circle cx="566.01" cy="321.05" r="2.9"/><circle cx="566.65" cy="321.62" r="2.9"/><circle cx="567.28" cy="322.18" r="2.9"/><circle cx="567.92" cy="322.74" r="2.9"/><circle cx="568.56" cy="323.29" r="2.9"/><circle cx="569.20" cy="323.84" r="2.9"/><circle cx="569.84" cy="324.39" r="2.9"/><circle cx="570.47" cy="324.93" r="2.9"/><circle cx="571.11" cy="325.47" r="2.9"/><circle cx="571.75" cy="326.00" r="2.9"/><circle cx="572.39" cy="326.53" r="2.9"/><circle cx="573.03" cy="327.06" r="2.9"/><circle cx="573.67" cy="327.58" r="2.9"/><circle cx="574.30" cy="328.11" r="2.9"/><circle cx="574.94" cy="328.63" r="2.9"/><circle cx="575.58" cy="329.15" r="2.9"/><circle cx="576.22" cy="329.66" r="2.9"/><circle cx="576.86" cy="330.16" r="2.9"/><circle cx="577.49" cy="330.66" r="2.9"/><circle cx="578.13" cy="331.15" r="2.9"/><circle cx="578.77" cy="331.63" r="2.9"/><circle cx="579.41" cy="332.10" r="2.9"/><circle cx="580.05" cy="332.57" r="2.9"/><circle cx="580.68" cy="333.02" r="2.9"/><circle cx="581.32" cy="333.46" r="2.9"/><circle cx="581.96" cy="333.90" r="2.9"/><circle cx="582.60" cy="334.33" r="2.9"/><circle cx="583.24" cy="334.75" r="2.9"/><circle cx="583.88" cy="335.17" r="2.9"/><circle cx="584.51" cy="335.58" r="2.9"/><circle cx="585.15" cy="335.98" r="2.9"/><circle cx="585.79" cy="336.38" r="2.9"/><circle cx="586.43" cy="336.78" r="2.9"/><circle cx="587.07" cy="337.17" r="2.9"/><circle cx="587.70" cy="337.55" r="2.9"/><circle cx="588.34" cy="337.94" r="2.9"/><circle cx="588.98" cy="338.32" r="2.9"/><circle cx="589.62" cy="338.69" r="2.9"/><circle cx="590.26" cy="339.07" r="2.9"/><circle cx="590.90" cy="339.44" r="2.9"/><circle cx="591.53" cy="339.81" r="2.9"/><circle cx="592.17" cy="340.18" r="2.9"/><circle cx="592.81" cy="340.54" r="2.9"/><circle cx="593.45" cy="340.91" r="2.9"/><circle cx="594.09" cy="341.27" r="2.9"/><circle cx="594.72" cy="341.63" r="2.9"/><circle cx="595.36" cy="341.99" r="2.9"/><circle cx="596.00" cy="342.34" r="2.9"/><circle cx="596.64" cy="342.69" r="2.9"/><circle cx="597.28" cy="343.03" r="2.9"/><circle cx="597.91" cy="343.37" r="2.9"/><circle cx="598.55" cy="343.69" r="2.9"/><circle cx="599.19" cy="344.02" r="2.9"/><circle cx="599.83" cy="344.33" r="2.9"/><circle cx="600.47" cy="344.64" r="2.9"/><circle cx="601.11" cy="344.94" r="2.9"/><circle cx="601.74" cy="345.23" r="2.9"/><circle cx="602.38" cy="345.52" r="2.9"/><circle cx="603.02" cy="345.81" r="2.9"/><circle cx="603.66" cy="346.10" r="2.9"/><circle cx="604.30" cy="346.37" r="2.9"/><circle cx="604.93" cy="346.65" r="2.9"/><circle cx="605.57" cy="346.92" r="2.9"/><circle cx="606.21" cy="347.18" r="2.9"/><circle cx="606.85" cy="347.44" r="2.9"/><circle cx="607.49" cy="347.69" r="2.9"/><circle cx="608.13" cy="347.94" r="2.9"/><circle cx="608.76" cy="348.18" r="2.9"/><circle cx="609.40" cy="348.41" r="2.9"/><circle cx="610.04" cy="348.64" r="2.9"/><circle cx="610.68" cy="348.86" r="2.9"/><circle cx="611.32" cy="349.07" r="2.9"/><circle cx="611.95" cy="349.28" r="2.9"/><circle cx="612.59" cy="349.48" r="2.9"/><circle cx="613.23" cy="349.68" r="2.9"/><circle cx="613.87" cy="349.87" r="2.9"/><circle cx="614.51" cy="350.06" r="2.9"/><circle cx="615.15" cy="350.24" r="2.9"/><circle cx="615.78" cy="350.42" r="2.9"/><circle cx="616.42" cy="350.60" r="2.9"/><circle cx="617.06" cy="350.78" r="2.9"/><circle cx="617.70" cy="350.95" r="2.9"/><circle cx="618.34" cy="351.12" r="2.9"/><circle cx="618.97" cy="351.29" r="2.9"/><circle cx="619.61" cy="351.46" r="2.9"/><circle cx="620.25" cy="351.63" r="2.9"/><circle cx="620.89" cy="351.80" r="2.9"/><circle cx="621.53" cy="351.97" r="2.9"/><circle cx="622.16" cy="352.14" r="2.9"/><circle cx="622.80" cy="352.31" r="2.9"/><circle cx="623.44" cy="352.48" r="2.9"/><circle cx="624.08" cy="352.66" r="2.9"/><circle cx="624.72" cy="352.83" r="2.9"/><circle cx="625.36" cy="353.00" r="2.9"/><circle cx="625.99" cy="353.18" r="2.9"/><circle cx="626.63" cy="353.35" r="2.9"/><circle cx="627.27" cy="353.53" r="2.9"/><circle cx="627.91" cy="353.70" r="2.9"/><circle cx="628.55" cy="353.88" r="2.9"/><circle cx="629.18" cy="354.05" r="2.9"/><circle cx="629.82" cy="354.22" r="2.9"/><circle cx="630.46" cy="354.39" r="2.9"/><circle cx="631.10" cy="354.55" r="2.9"/><circle cx="631.74" cy="354.72" r="2.9"/><circle cx="632.38" cy="354.88" r="2.9"/><circle cx="633.01" cy="355.04" r="2.9"/><circle cx="633.65" cy="355.20" r="2.9"/><circle cx="634.29" cy="355.35" r="2.9"/><circle cx="634.93" cy="355.51" r="2.9"/><circle cx="635.57" cy="355.65" r="2.9"/><circle cx="636.20" cy="355.80" r="2.9"/><circle cx="636.84" cy="355.94" r="2.9"/><circle cx="637.48" cy="356.09" r="2.9"/><circle cx="638.12" cy="356.23" r="2.9"/><circle cx="638.76" cy="356.37" r="2.9"/><circle cx="639.39" cy="356.51" r="2.9"/><circle cx="640.03" cy="356.64" r="2.9"/><circle cx="640.67" cy="356.78" r="2.9"/><circle cx="641.31" cy="356.91" r="2.9"/><circle cx="641.95" cy="357.05" r="2.9"/><circle cx="642.59" cy="357.18" r="2.9"/><circle cx="643.22" cy="357.30" r="2.9"/><circle cx="643.86" cy="357.43" r="2.9"/><circle cx="644.50" cy="357.55" r="2.9"/><circle cx="645.14" cy="357.67" r="2.9"/><circle cx="645.78" cy="357.79" r="2.9"/><circle cx="646.41" cy="357.90" r="2.9"/><circle cx="647.05" cy="358.02" r="2.9"/><circle cx="647.69" cy="358.13" r="2.9"/><circle cx="648.33" cy="358.23" r="2.9"/><circle cx="648.97" cy="358.33" r="2.9"/><circle cx="649.61" cy="358.44" r="2.9"/><circle cx="650.24" cy="358.53" r="2.9"/><circle cx="650.88" cy="358.63" r="2.9"/><circle cx="651.52" cy="358.73" r="2.9"/><circle cx="652.16" cy="358.82" r="2.9"/><circle cx="652.80" cy="358.91" r="2.9"/><circle cx="653.43" cy="359.00" r="2.9"/><circle cx="654.07" cy="359.09" r="2.9"/><circle cx="654.71" cy="359.18" r="2.9"/><circle cx="655.35" cy="359.27" r="2.9"/><circle cx="655.99" cy="359.35" r="2.9"/><circle cx="656.62" cy="359.43" r="2.9"/><circle cx="657.26" cy="359.51" r="2.9"/><circle cx="657.90" cy="359.59" r="2.9"/><circle cx="658.54" cy="359.67" r="2.9"/><circle cx="659.18" cy="359.74" r="2.9"/><circle cx="659.82" cy="359.81" r="2.9"/><circle cx="660.45" cy="359.89" r="2.9"/><circle cx="661.09" cy="359.96" r="2.9"/><circle cx="661.73" cy="360.02" r="2.9"/><circle cx="532.82" cy="56.09" r="2.9"/><circle cx="532.19" cy="56.10" r="2.9"/><circle cx="531.55" cy="56.11" r="2.9"/><circle cx="530.91" cy="56.12" r="2.9"/><circle cx="530.27" cy="56.13" r="2.9"/><circle cx="529.63" cy="56.14" r="2.9"/><circle cx="528.99" cy="56.15" r="2.9"/><circle cx="528.36" cy="56.16" r="2.9"/><circle cx="527.72" cy="56.17" r="2.9"/><circle cx="527.08" cy="56.21" r="2.9"/><circle cx="526.44" cy="56.26" r="2.9"/><circle cx="525.80" cy="56.30" r="2.9"/><circle cx="525.17" cy="56.34" r="2.9"/><circle cx="524.53" cy="56.38" r="2.9"/><circle cx="523.89" cy="56.42" r="2.9"/><circle cx="523.25" cy="56.46" r="2.9"/><circle cx="522.61" cy="56.50" r="2.9"/><circle cx="521.98" cy="56.55" r="2.9"/><circle cx="521.34" cy="56.59" r="2.9"/><circle cx="520.70" cy="56.63" r="2.9"/><circle cx="520.06" cy="56.67" r="2.9"/><circle cx="519.42" cy="56.72" r="2.9"/><circle cx="518.78" cy="56.76" r="2.9"/><circle cx="518.15" cy="56.80" r="2.9"/><circle cx="517.51" cy="56.85" r="2.9"/><circle cx="516.87" cy="56.89" r="2.9"/><circle cx="516.23" cy="56.93" r="2.9"/><circle cx="515.59" cy="56.98" r="2.9"/><circle cx="514.96" cy="57.02" r="2.9"/><circle cx="514.32" cy="57.06" r="2.9"/><circle cx="513.68" cy="57.11" r="2.9"/><circle cx="513.04" cy="57.15" r="2.9"/><circle cx="512.40" cy="57.20" r="2.9"/><circle cx="511.76" cy="57.24" r="2.9"/><circle cx="511.13" cy="57.29" r="2.9"/><circle cx="510.49" cy="57.33" r="2.9"/><circle cx="509.85" cy="57.38" r="2.9"/><circle cx="509.21" cy="57.42" r="2.9"/><circle cx="508.57" cy="57.47" r="2.9"/><circle cx="507.94" cy="57.51" r="2.9"/><circle cx="507.30" cy="57.56" r="2.9"/><circle cx="506.66" cy="57.61" r="2.9"/><circle cx="506.02" cy="57.65" r="2.9"/><circle cx="505.38" cy="57.70" r="2.9"/><circle cx="504.75" cy="57.75" r="2.9"/><circle cx="504.11" cy="57.79" r="2.9"/><circle cx="503.47" cy="57.84" r="2.9"/><circle cx="502.83" cy="57.89" r="2.9"/><circle cx="502.19" cy="57.93" r="2.9"/><circle cx="501.55" cy="57.98" r="2.9"/><circle cx="500.92" cy="58.03" r="2.9"/><circle cx="500.28" cy="58.08" r="2.9"/><circle cx="499.64" cy="58.13" r="2.9"/><circle cx="499.00" cy="58.17" r="2.9"/><circle cx="498.36" cy="58.21" r="2.9"/><circle cx="497.73" cy="58.25" r="2.9"/><circle cx="497.09" cy="58.29" r="2.9"/><circle cx="496.45" cy="58.34" r="2.9"/><circle cx="495.81" cy="58.38" r="2.9"/><circle cx="495.17" cy="58.42" r="2.9"/><circle cx="494.53" cy="58.46" r="2.9"/><circle cx="493.90" cy="58.51" r="2.9"/><circle cx="493.26" cy="58.55" r="2.9"/><circle cx="492.62" cy="58.60" r="2.9"/><circle cx="491.98" cy="58.64" r="2.9"/><circle cx="491.34" cy="58.68" r="2.9"/><circle cx="490.71" cy="58.73" r="2.9"/><circle cx="490.07" cy="58.77" r="2.9"/><circle cx="489.43" cy="58.82" r="2.9"/><circle cx="488.79" cy="58.86" r="2.9"/><circle cx="488.15" cy="58.91" r="2.9"/><circle cx="487.52" cy="58.95" r="2.9"/><circle cx="486.88" cy="59.00" r="2.9"/><circle cx="486.24" cy="59.05" r="2.9"/><circle cx="485.60" cy="59.09" r="2.9"/><circle cx="484.96" cy="59.14" r="2.9"/><circle cx="484.32" cy="59.19" r="2.9"/><circle cx="483.69" cy="59.23" r="2.9"/><circle cx="483.05" cy="59.28" r="2.9"/><circle cx="482.41" cy="59.33" r="2.9"/><circle cx="481.77" cy="59.37" r="2.9"/><circle cx="481.13" cy="59.42" r="2.9"/><circle cx="480.50" cy="59.47" r="2.9"/><circle cx="479.86" cy="59.52" r="2.9"/><circle cx="479.22" cy="59.57" r="2.9"/><circle cx="478.58" cy="59.62" r="2.9"/><circle cx="477.94" cy="59.67" r="2.9"/><circle cx="477.30" cy="59.71" r="2.9"/><circle cx="476.67" cy="59.76" r="2.9"/><circle cx="476.03" cy="59.81" r="2.9"/><circle cx="475.39" cy="59.86" r="2.9"/><circle cx="474.75" cy="59.92" r="2.9"/><circle cx="474.11" cy="59.97" r="2.9"/><circle cx="473.48" cy="60.02" r="2.9"/><circle cx="472.84" cy="60.07" r="2.9"/><circle cx="472.20" cy="60.12" r="2.9"/><circle cx="471.56" cy="60.17" r="2.9"/><circle cx="470.92" cy="60.22" r="2.9"/><circle cx="470.29" cy="60.28" r="2.9"/><circle cx="469.65" cy="60.33" r="2.9"/><circle cx="469.01" cy="60.38" r="2.9"/><circle cx="468.37" cy="60.43" r="2.9"/><circle cx="467.73" cy="60.49" r="2.9"/><circle cx="467.09" cy="60.54" r="2.9"/><circle cx="466.46" cy="60.60" r="2.9"/><circle cx="465.82" cy="60.65" r="2.9"/><circle cx="465.18" cy="60.70" r="2.9"/><circle cx="464.54" cy="60.76" r="2.9"/><circle cx="463.90" cy="60.81" r="2.9"/><circle cx="463.27" cy="60.87" r="2.9"/><circle cx="462.63" cy="60.93" r="2.9"/><circle cx="461.99" cy="60.98" r="2.9"/><circle cx="461.35" cy="61.04" r="2.9"/><circle cx="460.71" cy="61.09" r="2.9"/><circle cx="460.07" cy="61.15" r="2.9"/><circle cx="459.44" cy="61.21" r="2.9"/><circle cx="458.80" cy="61.27" r="2.9"/><circle cx="458.16" cy="61.32" r="2.9"/><circle cx="457.52" cy="61.38" r="2.9"/><circle cx="456.88" cy="61.44" r="2.9"/><circle cx="456.25" cy="61.50" r="2.9"/><circle cx="455.61" cy="61.56" r="2.9"/><circle cx="454.97" cy="61.62" r="2.9"/><circle cx="454.33" cy="61.68" r="2.9"/><circle cx="453.69" cy="61.74" r="2.9"/><circle cx="453.05" cy="61.80" r="2.9"/><circle cx="452.42" cy="61.86" r="2.9"/><circle cx="451.78" cy="61.92" r="2.9"/><circle cx="451.14" cy="61.98" r="2.9"/><circle cx="450.50" cy="62.05" r="2.9"/><circle cx="449.86" cy="62.11" r="2.9"/><circle cx="449.23" cy="62.17" r="2.9"/><circle cx="448.59" cy="62.24" r="2.9"/><circle cx="447.95" cy="62.30" r="2.9"/><circle cx="447.31" cy="62.36" r="2.9"/><circle cx="446.67" cy="62.43" r="2.9"/><circle cx="446.04" cy="62.49" r="2.9"/><circle cx="445.40" cy="62.56" r="2.9"/><circle cx="444.76" cy="62.62" r="2.9"/><circle cx="444.12" cy="62.69" r="2.9"/><circle cx="443.48" cy="62.75" r="2.9"/><circle cx="442.84" cy="62.82" r="2.9"/><circle cx="442.21" cy="62.89" r="2.9"/><circle cx="441.57" cy="62.96" r="2.9"/><circle cx="440.93" cy="63.02" r="2.9"/><circle cx="440.29" cy="63.09" r="2.9"/><circle cx="439.65" cy="63.16" r="2.9"/><circle cx="439.02" cy="63.23" r="2.9"/><circle cx="438.38" cy="63.30" r="2.9"/><circle cx="437.74" cy="63.37" r="2.9"/><circle cx="437.10" cy="63.44" r="2.9"/><circle cx="436.46" cy="63.51" r="2.9"/><circle cx="435.82" cy="63.58" r="2.9"/><circle cx="435.19" cy="63.65" r="2.9"/><circle cx="434.55" cy="63.73" r="2.9"/><circle cx="433.91" cy="63.80" r="2.9"/><circle cx="433.27" cy="63.87" r="2.9"/><circle cx="432.63" cy="63.94" r="2.9"/><circle cx="432.00" cy="64.02" r="2.9"/><circle cx="431.36" cy="64.09" r="2.9"/><circle cx="430.72" cy="64.17" r="2.9"/><circle cx="430.08" cy="64.24" r="2.9"/><circle cx="429.44" cy="64.32" r="2.9"/><circle cx="428.81" cy="64.40" r="2.9"/><circle cx="428.17" cy="64.47" r="2.9"/><circle cx="427.53" cy="64.55" r="2.9"/><circle cx="426.89" cy="64.63" r="2.9"/><circle cx="426.25" cy="64.71" r="2.9"/><circle cx="425.61" cy="64.79" r="2.9"/><circle cx="424.98" cy="64.87" r="2.9"/><circle cx="424.34" cy="64.95" r="2.9"/><circle cx="423.70" cy="65.03" r="2.9"/><circle cx="423.06" cy="65.11" r="2.9"/><circle cx="422.42" cy="65.19" r="2.9"/><circle cx="421.79" cy="65.27" r="2.9"/><circle cx="421.15" cy="65.35" r="2.9"/><circle cx="420.51" cy="65.44" r="2.9"/><circle cx="419.87" cy="65.52" r="2.9"/><circle cx="419.23" cy="65.61" r="2.9"/><circle cx="418.59" cy="65.69" r="2.9"/><circle cx="417.96" cy="65.78" r="2.9"/><circle cx="417.32" cy="65.86" r="2.9"/><circle cx="416.68" cy="65.95" r="2.9"/><circle cx="416.04" cy="66.04" r="2.9"/><circle cx="415.40" cy="66.13" r="2.9"/><circle cx="414.77" cy="66.22" r="2.9"/><circle cx="414.13" cy="66.30" r="2.9"/><circle cx="413.49" cy="66.39" r="2.9"/><circle cx="412.85" cy="66.49" r="2.9"/><circle cx="412.21" cy="66.58" r="2.9"/><circle cx="411.58" cy="66.67" r="2.9"/><circle cx="410.94" cy="66.76" r="2.9"/><circle cx="410.30" cy="66.85" r="2.9"/><circle cx="409.66" cy="66.95" r="2.9"/><circle cx="409.02" cy="67.04" r="2.9"/><circle cx="408.38" cy="67.14" r="2.9"/><circle cx="407.75" cy="67.24" r="2.9"/><circle cx="407.11" cy="67.33" r="2.9"/><circle cx="406.47" cy="67.43" r="2.9"/><circle cx="405.83" cy="67.53" r="2.9"/><circle cx="405.19" cy="67.64" r="2.9"/><circle cx="404.56" cy="67.75" r="2.9"/><circle cx="403.92" cy="67.85" r="2.9"/><circle cx="403.28" cy="67.96" r="2.9"/><circle cx="402.64" cy="68.07" r="2.9"/><circle cx="402.00" cy="68.18" r="2.9"/><circle cx="401.36" cy="68.29" r="2.9"/><circle cx="400.73" cy="68.40" r="2.9"/><circle cx="400.09" cy="68.51" r="2.9"/><circle cx="399.45" cy="68.63" r="2.9"/><circle cx="398.81" cy="68.74" r="2.9"/><circle cx="398.17" cy="68.86" r="2.9"/><circle cx="397.54" cy="68.97" r="2.9"/><circle cx="396.90" cy="69.09" r="2.9"/><circle cx="396.26" cy="69.20" r="2.9"/><circle cx="395.62" cy="69.32" r="2.9"/><circle cx="394.98" cy="69.44" r="2.9"/><circle cx="394.35" cy="69.56" r="2.9"/><circle cx="393.71" cy="69.68" r="2.9"/><circle cx="393.07" cy="69.80" r="2.9"/><circle cx="392.43" cy="69.93" r="2.9"/><circle cx="391.79" cy="70.05" r="2.9"/><circle cx="391.15" cy="70.18" r="2.9"/><circle cx="390.52" cy="70.30" r="2.9"/><circle cx="389.88" cy="70.43" r="2.9"/><circle cx="389.24" cy="70.56" r="2.9"/><circle cx="388.60" cy="70.68" r="2.9"/><circle cx="387.96" cy="70.81" r="2.9"/><circle cx="387.33" cy="70.95" r="2.9"/><circle cx="386.69" cy="71.08" r="2.9"/><circle cx="386.05" cy="71.21" r="2.9"/><circle cx="385.41" cy="71.35" r="2.9"/><circle cx="384.77" cy="71.48" r="2.9"/><circle cx="384.13" cy="71.62" r="2.9"/><circle cx="383.50" cy="71.75" r="2.9"/><circle cx="382.86" cy="71.89" r="2.9"/><circle cx="382.22" cy="72.03" r="2.9"/><circle cx="381.58" cy="72.18" r="2.9"/><circle cx="380.94" cy="72.32" r="2.9"/><circle cx="380.31" cy="72.46" r="2.9"/><circle cx="379.67" cy="72.61" r="2.9"/><circle cx="379.03" cy="72.75" r="2.9"/><circle cx="378.39" cy="72.90" r="2.9"/><circle cx="377.75" cy="73.05" r="2.9"/><circle cx="377.12" cy="73.20" r="2.9"/><circle cx="376.48" cy="73.35" r="2.9"/><circle cx="375.84" cy="73.51" r="2.9"/><circle cx="375.20" cy="73.66" r="2.9"/><circle cx="374.56" cy="73.82" r="2.9"/><circle cx="373.92" cy="73.97" r="2.9"/><circle cx="373.29" cy="74.13" r="2.9"/><circle cx="372.65" cy="74.29" r="2.9"/><circle cx="372.01" cy="74.46" r="2.9"/><circle cx="371.37" cy="74.62" r="2.9"/><circle cx="370.73" cy="74.78" r="2.9"/><circle cx="370.10" cy="74.95" r="2.9"/><circle cx="369.46" cy="75.12" r="2.9"/><circle cx="368.82" cy="75.29" r="2.9"/><circle cx="368.18" cy="75.46" r="2.9"/><circle cx="367.54" cy="75.64" r="2.9"/><circle cx="366.90" cy="75.81" r="2.9"/><circle cx="366.27" cy="75.99" r="2.9"/><circle cx="365.63" cy="76.17" r="2.9"/><circle cx="364.99" cy="76.35" r="2.9"/><circle cx="364.35" cy="76.53" r="2.9"/><circle cx="363.71" cy="76.72" r="2.9"/><circle cx="363.08" cy="76.90" r="2.9"/><circle cx="362.44" cy="77.09" r="2.9"/><circle cx="361.80" cy="77.28" r="2.9"/><circle cx="361.16" cy="77.48" r="2.9"/><circle cx="360.52" cy="77.67" r="2.9"/><circle cx="359.89" cy="77.87" r="2.9"/><circle cx="359.25" cy="78.07" r="2.9"/><circle cx="358.61" cy="78.27" r="2.9"/><circle cx="357.97" cy="78.47" r="2.9"/><circle cx="357.33" cy="78.68" r="2.9"/><circle cx="356.69" cy="78.89" r="2.9"/><circle cx="356.06" cy="79.10" r="2.9"/><circle cx="355.42" cy="79.31" r="2.9"/><circle cx="354.78" cy="79.53" r="2.9"/><circle cx="354.14" cy="79.74" r="2.9"/><circle cx="353.50" cy="79.97" r="2.9"/><circle cx="352.87" cy="80.19" r="2.9"/><circle cx="352.23" cy="80.42" r="2.9"/><circle cx="351.59" cy="80.64" r="2.9"/><circle cx="350.95" cy="80.88" r="2.9"/><circle cx="350.31" cy="81.11" r="2.9"/><circle cx="349.67" cy="81.35" r="2.9"/><circle cx="349.04" cy="81.59" r="2.9"/><circle cx="348.40" cy="81.83" r="2.9"/><circle cx="347.76" cy="82.08" r="2.9"/><circle cx="347.12" cy="82.33" r="2.9"/><circle cx="346.48" cy="82.59" r="2.9"/><circle cx="345.85" cy="82.84" r="2.9"/><circle cx="345.21" cy="83.10" r="2.9"/><circle cx="344.57" cy="83.37" r="2.9"/><circle cx="343.93" cy="83.63" r="2.9"/><circle cx="343.29" cy="83.91" r="2.9"/><circle cx="342.66" cy="84.18" r="2.9"/><circle cx="342.02" cy="84.46" r="2.9"/><circle cx="341.38" cy="84.74" r="2.9"/><circle cx="340.74" cy="85.03" r="2.9"/><circle cx="340.10" cy="85.32" r="2.9"/><circle cx="339.46" cy="85.62" r="2.9"/><circle cx="338.83" cy="85.92" r="2.9"/><circle cx="338.19" cy="86.22" r="2.9"/><circle cx="337.55" cy="86.53" r="2.9"/><circle cx="336.91" cy="86.84" r="2.9"/><circle cx="336.27" cy="87.16" r="2.9"/><circle cx="335.64" cy="87.49" r="2.9"/><circle cx="335.00" cy="87.82" r="2.9"/><circle cx="334.36" cy="88.15" r="2.9"/><circle cx="333.72" cy="88.49" r="2.9"/><circle cx="333.08" cy="88.83" r="2.9"/><circle cx="332.44" cy="89.19" r="2.9"/><circle cx="331.81" cy="89.54" r="2.9"/><circle cx="331.17" cy="89.90" r="2.9"/><circle cx="330.53" cy="90.27" r="2.9"/><circle cx="329.89" cy="90.65" r="2.9"/><circle cx="329.25" cy="91.03" r="2.9"/><circle cx="328.62" cy="91.42" r="2.9"/><circle cx="327.98" cy="91.82" r="2.9"/><circle cx="327.34" cy="92.22" r="2.9"/><circle cx="326.70" cy="92.63" r="2.9"/><circle cx="326.06" cy="93.05" r="2.9"/><circle cx="325.42" cy="93.47" r="2.9"/><circle cx="324.79" cy="93.91" r="2.9"/><circle cx="324.15" cy="94.35" r="2.9"/><circle cx="323.51" cy="94.80" r="2.9"/><circle cx="322.87" cy="95.26" r="2.9"/><circle cx="322.23" cy="95.73" r="2.9"/><circle cx="321.60" cy="96.21" r="2.9"/><circle cx="320.96" cy="96.70" r="2.9"/><circle cx="320.32" cy="97.20" r="2.9"/><circle cx="319.68" cy="97.71" r="2.9"/><circle cx="319.04" cy="98.24" r="2.9"/><circle cx="318.41" cy="98.77" r="2.9"/><circle cx="317.77" cy="99.32" r="2.9"/><circle cx="317.13" cy="99.88" r="2.9"/><circle cx="316.49" cy="100.45" r="2.9"/><circle cx="315.85" cy="101.03" r="2.9"/><circle cx="315.21" cy="101.63" r="2.9"/><circle cx="314.58" cy="102.25" r="2.9"/><circle cx="313.94" cy="102.88" r="2.9"/><circle cx="313.30" cy="103.53" r="2.9"/><circle cx="312.66" cy="104.19" r="2.9"/><circle cx="312.02" cy="104.87" r="2.9"/><circle cx="311.39" cy="105.57" r="2.9"/><circle cx="310.75" cy="106.29" r="2.9"/><circle cx="310.11" cy="107.03" r="2.9"/><circle cx="309.47" cy="107.79" r="2.9"/><circle cx="308.83" cy="108.57" r="2.9"/><circle cx="308.19" cy="109.37" r="2.9"/><circle cx="307.56" cy="110.20" r="2.9"/><circle cx="306.92" cy="111.06" r="2.9"/><circle cx="306.28" cy="111.94" r="2.9"/><circle cx="305.64" cy="112.85" r="2.9"/><circle cx="305.00" cy="113.80" r="2.9"/><circle cx="304.37" cy="114.77" r="2.9"/><circle cx="303.73" cy="115.78" r="2.9"/><circle cx="303.09" cy="116.82" r="2.9"/><circle cx="302.45" cy="117.91" r="2.9"/><circle cx="301.81" cy="119.03" r="2.9"/><circle cx="301.18" cy="120.20" r="2.9"/><circle cx="300.54" cy="121.42" r="2.9"/><circle cx="299.90" cy="122.68" r="2.9"/><circle cx="299.26" cy="124.00" r="2.9"/><circle cx="298.62" cy="125.38" r="2.9"/><circle cx="297.98" cy="126.81" r="2.9"/><circle cx="297.35" cy="128.32" r="2.9"/><circle cx="296.71" cy="129.90" r="2.9"/><circle cx="296.07" cy="131.56" r="2.9"/><circle cx="295.43" cy="133.30" r="2.9"/><circle cx="294.79" cy="135.13" r="2.9"/><circle cx="294.16" cy="137.07" r="2.9"/><circle cx="293.52" cy="139.12" r="2.9"/><circle cx="292.88" cy="141.30" r="2.9"/><circle cx="291.60" cy="146.08" r="2.9"/><circle cx="290.33" cy="151.54" r="2.9"/><circle cx="289.05" cy="157.88" r="2.9"/><circle cx="287.77" cy="165.37" r="2.9"/><circle cx="286.50" cy="174.41" r="2.9"/><circle cx="285.22" cy="185.64" r="2.9"/><circle cx="283.95" cy="201.61" r="2.9"/><circle cx="282.67" cy="223.81" r="2.9"/><circle cx="281.39" cy="260.45" r="2.9"/><circle cx="280.12" cy="346.39" r="2.9"/><circle cx="278.84" cy="367.75" r="2.9"/></g>
<g stroke="#000000"><circle cx="534.10" cy="56.71" r="2.9"/><circle cx="535.38" cy="77.22" r="2.9"/><circle cx="536.65" cy="163.28" r="2.9"/><circle cx="537.93" cy="199.98" r="2.9"/><circle cx="539.21" cy="222.43" r="2.9"/><circle cx="540.48" cy="237.39" r="2.9"/><circle cx="541.76" cy="249.58" r="2.9"/><circle cx="543.03" cy="257.91" r="2.9"/><circle cx="544.31" cy="266.54" r="2.9"/><circle cx="545.59" cy="272.82" r="2.9"/><circle cx="546.86" cy="278.25" r="2.9"/><circle cx="548.14" cy="282.90" r="2.9"/><circle cx="549.42" cy="287.00" r="2.9"/><circle cx="550.05" cy="288.82" r="2.9"/><circle cx="550.69" cy="290.55" r="2.9"/><circle cx="551.33" cy="292.21" r="2.9"/><circle cx="551.97" cy="293.78" r="2.9"/><circle cx="552.61" cy="295.29" r="2.9"/><circle cx="553.24" cy="296.72" r="2.9"/><circle cx="553.88" cy="298.08" r="2.9"/><circle cx="554.52" cy="299.37" r="2.9"/><circle cx="555.16" cy="300.60" r="2.9"/><circle cx="555.80" cy="301.77" r="2.9"/><circle cx="556.44" cy="302.88" r="2.9"/><circle cx="557.07" cy="303.95" r="2.9"/><circle cx="557.71" cy="304.97" r="2.9"/><circle cx="558.35" cy="305.95" r="2.9"/><circle cx="558.99" cy="306.90" r="2.9"/><circle cx="559.63" cy="307.82" r="2.9"/><circle cx="560.26" cy="308.71" r="2.9"/><circle cx="560.90" cy="309.56" r="2.9"/><circle cx="561.54" cy="310.39" r="2.9"/><circle cx="562.18" cy="311.18" r="2.9"/><circle cx="562.82" cy="311.95" r="2.9"/><circle cx="563.45" cy="312.71" r="2.9"/><circle cx="564.09" cy="313.44" r="2.9"/><circle cx="564.73" cy="314.16" r="2.9"/><circle cx="565.37" cy="314.86" r="2.9"/><circle cx="566.01" cy="315.56" r="2.9"/><circle cx="566.65" cy="316.23" r="2.9"/><circle cx="567.28" cy="316.90" r="2.9"/><circle cx="567.92" cy="317.55" r="2.9"/><circle cx="568.56" cy="318.18" r="2.9"/><circle cx="569.20" cy="318.81" r="2.9"/><circle cx="569.84" cy="319.41" r="2.9"/><circle cx="570.47" cy="320.01" r="2.9"/><circle cx="571.11" cy="320.59" r="2.9"/><circle cx="571.75" cy="321.15" r="2.9"/><circle cx="572.39" cy="321.70" r="2.9"/><circle cx="573.03" cy="322.24" r="2.9"/><circle cx="573.67" cy="322.76" r="2.9"/><circle cx="574.30" cy="323.28" r="2.9"/><circle cx="574.94" cy="323.78" r="2.9"/><circle cx="575.58" cy="324.27" r="2.9"/><circle cx="576.22" cy="324.75" r="2.9"/><circle cx="576.86" cy="325.22" r="2.9"/><circle cx="577.49" cy="325.68" r="2.9"/><circle cx="578.13" cy="326.13" r="2.9"/><circle cx="578.77" cy="326.57" r="2.9"/><circle cx="579.41" cy="327.01" r="2.9"/><circle cx="580.05" cy="327.44" r="2.9"/><circle cx="580.68" cy="327.86" r="2.9"/><circle cx="581.32" cy="328.27" r="2.9"/><circle cx="581.96" cy="328.68" r="2.9"/><circle cx="582.60" cy="329.08" r="2.9"/><circle cx="583.24" cy="329.48" r="2.9"/><circle cx="583.88" cy="329.87" r="2.9"/><circle cx="584.51" cy="330.25" r="2.9"/><circle cx="585.15" cy="330.63" r="2.9"/><circle cx="585.79" cy="331.00" r="2.9"/><circle cx="586.43" cy="331.37" r="2.9"/><circle cx="587.07" cy="331.72" r="2.9"/><circle cx="587.70" cy="332.08" r="2.9"/><circle cx="588.34" cy="332.43" r="2.9"/><circle cx="588.98" cy="332.77" r="2.9"/><circle cx="589.62" cy="333.10" r="2.9"/><circle cx="590.26" cy="333.43" r="2.9"/><circle cx="590.90" cy="333.76" r="2.9"/><circle cx="591.53" cy="334.07" r="2.9"/><circle cx="592.17" cy="334.39" r="2.9"/><circle cx="592.81" cy="334.69" r="2.9"/><circle cx="593.45" cy="334.98" r="2.9"/><circle cx="594.09" cy="335.27" r="2.9"/><circle cx="594.72" cy="335.55" r="2.9"/><circle cx="595.36" cy="335.83" r="2.9"/><circle cx="596.00" cy="336.11" r="2.9"/><circle cx="596.64" cy="336.38" r="2.9"/><circle cx="597.28" cy="336.65" r="2.9"/><circle cx="597.91" cy="336.92" r="2.9"/><circle cx="598.55" cy="337.19" r="2.9"/><circle cx="599.19" cy="337.46" r="2.9"/><circle cx="599.83" cy="337.73" r="2.9"/><circle cx="600.47" cy="338.00" r="2.9"/><circle cx="601.11" cy="338.27" r="2.9"/><circle cx="601.74" cy="338.54" r="2.9"/><circle cx="602.38" cy="338.81" r="2.9"/><circle cx="603.02" cy="339.08" r="2.9"/><circle cx="603.66" cy="339.35" r="2.9"/><circle cx="604.30" cy="339.62" r="2.9"/><circle cx="604.93" cy="339.88" r="2.9"/><circle cx="605.57" cy="340.15" r="2.9"/><circle cx="606.21" cy="340.41" r="2.9"/><circle cx="606.85" cy="340.67" r="2.9"/><circle cx="607.49" cy="340.93" r="2.9"/><circle cx="608.13" cy="341.19" r="2.9"/><circle cx="608.76" cy="341.45" r="2.9"/><circle cx="609.40" cy="341.71" r="2.9"/><circle cx="610.04" cy="341.97" r="2.9"/><circle cx="610.68" cy="342.22" r="2.9"/><circle cx="611.32" cy="342.48" r="2.9"/><circle cx="611.95" cy="342.74" r="2.9"/><circle cx="612.59" cy="343.00" r="2.9"/><circle cx="613.23" cy="343.27" r="2.9"/><circle cx="613.87" cy="343.53" r="2.9"/><circle cx="614.51" cy="343.79" r="2.9"/><circle cx="615.15" cy="344.06" r="2.9"/><circle cx="615.78" cy="344.32" r="2.9"/><circle cx="616.42" cy="344.58" r="2.9"/><circle cx="617.06" cy="344.84" r="2.9"/><circle cx="617.70" cy="345.09" r="2.9"/><circle cx="618.34" cy="345.33" r="2.9"/><circle cx="618.97" cy="345.57" r="2.9"/><circle cx="619.61" cy="345.81" r="2.9"/><circle cx="620.25" cy="346.04" r="2.9"/><circle cx="620.89" cy="346.26" r="2.9"/><circle cx="621.53" cy="346.47" r="2.9"/><circle cx="622.16" cy="346.67" r="2.9"/><circle cx="622.80" cy="346.87" r="2.9"/><circle cx="623.44" cy="347.05" r="2.9"/><circle cx="624.08" cy="347.22" r="2.9"/><circle cx="624.72" cy="347.39" r="2.9"/><circle cx="625.36" cy="347.56" r="2.9"/><circle cx="625.99" cy="347.71" r="2.9"/><circle cx="626.63" cy="347.87" r="2.9"/><circle cx="627.27" cy="348.01" r="2.9"/><circle cx="627.91" cy="348.16" r="2.9"/><circle cx="628.55" cy="348.30" r="2.9"/><circle cx="629.18" cy="348.44" r="2.9"/><circle cx="629.82" cy="348.57" r="2.9"/><circle cx="630.46" cy="348.70" r="2.9"/><circle cx="631.10" cy="348.84" r="2.9"/><circle cx="631.74" cy="348.97" r="2.9"/><circle cx="632.38" cy="349.10" r="2.9"/><circle cx="633.01" cy="349.23" r="2.9"/><circle cx="633.65" cy="349.36" r="2.9"/><circle cx="634.29" cy="349.49" r="2.9"/><circle cx="634.93" cy="349.62" r="2.9"/><circle cx="635.57" cy="349.75" r="2.9"/><circle cx="636.20" cy="349.89" r="2.9"/><circle cx="636.84" cy="350.02" r="2.9"/><circle cx="637.48" cy="350.16" r="2.9"/><circle cx="638.12" cy="350.29" r="2.9"/><circle cx="638.76" cy="350.43" r="2.9"/><circle cx="639.39" cy="350.56" r="2.9"/><circle cx="640.03" cy="350.69" r="2.9"/><circle cx="640.67" cy="350.82" r="2.9"/><circle cx="641.31" cy="350.96" r="2.9"/><circle cx="641.95" cy="351.09" r="2.9"/><circle cx="642.59" cy="351.22" r="2.9"/><circle cx="643.22" cy="351.35" r="2.9"/><circle cx="643.86" cy="351.48" r="2.9"/><circle cx="644.50" cy="351.61" r="2.9"/><circle cx="645.14" cy="351.73" r="2.9"/><circle cx="645.78" cy="351.86" r="2.9"/><circle cx="646.41" cy="351.99" r="2.9"/><circle cx="647.05" cy="352.11" r="2.9"/><circle cx="647.69" cy="352.24" r="2.9"/><circle cx="648.33" cy="352.36" r="2.9"/><circle cx="648.97" cy="352.48" r="2.9"/><circle cx="649.61" cy="352.60" r="2.9"/><circle cx="650.24" cy="352.72" r="2.9"/><circle cx="650.88" cy="352.84" r="2.9"/><circle cx="651.52" cy="352.96" r="2.9"/><circle cx="652.16" cy="353.08" r="2.9"/><circle cx="652.80" cy="353.20" r="2.9"/><circle cx="653.43" cy="353.32" r="2.9"/><circle cx="654.07" cy="353.43" r="2.9"/><circle cx="654.71" cy="353.55" r="2.9"/><circle cx="655.35" cy="353.66" r="2.9"/><circle cx="655.99" cy="353.78" r="2.9"/><circle cx="656.62" cy="353.89" r="2.9"/><circle cx="657.26" cy="354.00" r="2.9"/><circle cx="657.90" cy="354.12" r="2.9"/><circle cx="658.54" cy="354.23" r="2.9"/><circle cx="659.18" cy="354.34" r="2.9"/><circle cx="659.82" cy="354.45" r="2.9"/><circle cx="660.45" cy="354.56" r="2.9"/><circle cx="661.09" cy="354.67" r="2.9"/><circle cx="661.73" cy="354.77" r="2.9"/><circle cx="532.83" cy="51.09" r="2.9"/><circle cx="532.19" cy="51.09" r="2.9"/><circle cx="531.55" cy="51.09" r="2.9"/><circle cx="530.91" cy="51.10" r="2.9"/><circle cx="530.28" cy="51.10" r="2.9"/><circle cx="529.64" cy="51.10" r="2.9"/><circle cx="529.00" cy="51.10" r="2.9"/><circle cx="528.37" cy="51.10" r="2.9"/><circle cx="527.73" cy="51.10" r="2.9"/><circle cx="527.09" cy="51.10" r="2.9"/><circle cx="526.45" cy="51.10" r="2.9"/><circle cx="525.82" cy="51.09" r="2.9"/><circle cx="525.18" cy="51.09" r="2.9"/><circle cx="524.54" cy="51.09" r="2.9"/><circle cx="523.91" cy="51.09" r="2.9"/><circle cx="523.27" cy="51.09" r="2.9"/><circle cx="522.63" cy="51.08" r="2.9"/><circle cx="521.99" cy="51.08" r="2.9"/><circle cx="521.36" cy="51.08" r="2.9"/><circle cx="520.72" cy="51.08" r="2.9"/><circle cx="520.08" cy="51.08" r="2.9"/><circle cx="519.45" cy="51.08" r="2.9"/><circle cx="518.81" cy="51.07" r="2.9"/><circle cx="518.17" cy="51.07" r="2.9"/><circle cx="517.53" cy="51.07" r="2.9"/><circle cx="516.90" cy="51.07" r="2.9"/><circle cx="516.26" cy="51.07" r="2.9"/><circle cx="515.62" cy="51.07" r="2.9"/><circle cx="514.99" cy="51.07" r="2.9"/><circle cx="514.35" cy="51.07" r="2.9"/><circle cx="513.71" cy="51.06" r="2.9"/><circle cx="513.07" cy="51.06" r="2.9"/><circle cx="512.44" cy="51.06" r="2.9"/><circle cx="511.80" cy="51.06" r="2.9"/><circle cx="511.16" cy="51.06" r="2.9"/><circle cx="510.53" cy="51.06" r="2.9"/><circle cx="509.89" cy="51.06" r="2.9"/><circle cx="509.25" cy="51.06" r="2.9"/><circle cx="508.61" cy="51.06" r="2.9"/><circle cx="507.98" cy="51.06" r="2.9"/><circle cx="507.34" cy="51.06" r="2.9"/><circle cx="506.70" cy="51.06" r="2.9"/><circle cx="506.07" cy="51.06" r="2.9"/><circle cx="505.43" cy="51.06" r="2.9"/><circle cx="504.79" cy="51.06" r="2.9"/><circle cx="504.15" cy="51.06" r="2.9"/><circle cx="503.52" cy="51.06" r="2.9"/><circle cx="502.88" cy="51.06" r="2.9"/><circle cx="502.24" cy="51.06" r="2.9"/><circle cx="501.61" cy="51.06" r="2.9"/><circle cx="500.97" cy="51.06" r="2.9"/><circle cx="500.33" cy="51.06" r="2.9"/><circle cx="499.69" cy="51.06" r="2.9"/><circle cx="499.06" cy="51.08" r="2.9"/><circle cx="498.42" cy="51.10" r="2.9"/><circle cx="497.78" cy="51.12" r="2.9"/><circle cx="497.15" cy="51.14" r="2.9"/><circle cx="496.51" cy="51.16" r="2.9"/><circle cx="495.87" cy="51.18" r="2.9"/><circle cx="495.23" cy="51.20" r="2.9"/><circle cx="494.60" cy="51.22" r="2.9"/><circle cx="493.96" cy="51.24" r="2.9"/><circle cx="493.32" cy="51.26" r="2.9"/><circle cx="492.69" cy="51.28" r="2.9"/><circle cx="492.05" cy="51.30" r="2.9"/><circle cx="491.41" cy="51.32" r="2.9"/><circle cx="490.77" cy="51.34" r="2.9"/><circle cx="490.14" cy="51.36" r="2.9"/><circle cx="489.50" cy="51.38" r="2.9"/><circle cx="488.86" cy="51.40" r="2.9"/><circle cx="488.23" cy="51.42" r="2.9"/><circle cx="487.59" cy="51.44" r="2.9"/><circle cx="486.95" cy="51.46" r="2.9"/><circle cx="486.31" cy="51.48" r="2.9"/><circle cx="485.68" cy="51.50" r="2.9"/><circle cx="485.04" cy="51.53" r="2.9"/><circle cx="484.40" cy="51.55" r="2.9"/><circle cx="483.77" cy="51.57" r="2.9"/><circle cx="483.13" cy="51.59" r="2.9"/><circle cx="482.49" cy="51.61" r="2.9"/><circle cx="481.85" cy="51.63" r="2.9"/><circle cx="481.22" cy="51.65" r="2.9"/><circle cx="480.58" cy="51.68" r="2.9"/><circle cx="479.94" cy="51.70" r="2.9"/><circle cx="479.31" cy="51.72" r="2.9"/><circle cx="478.67" cy="51.74" r="2.9"/><circle cx="478.03" cy="51.76" r="2.9"/><circle cx="477.39" cy="51.79" r="2.9"/><circle cx="476.76" cy="51.81" r="2.9"/><circle cx="476.12" cy="51.83" r="2.9"/><circle cx="475.48" cy="51.85" r="2.9"/><circle cx="474.85" cy="51.87" r="2.9"/><circle cx="474.21" cy="51.90" r="2.9"/><circle cx="473.57" cy="51.92" r="2.9"/><circle cx="472.93" cy="51.94" r="2.9"/><circle cx="472.30" cy="51.96" r="2.9"/><circle cx="471.66" cy="51.99" r="2.9"/><circle cx="471.02" cy="52.01" r="2.9"/><circle cx="470.39" cy="52.03" r="2.9"/><circle cx="469.75" cy="52.06" r="2.9"/><circle cx="469.11" cy="52.08" r="2.9"/><circle cx="468.47" cy="52.10" r="2.9"/><circle cx="467.84" cy="52.12" r="2.9"/><circle cx="467.20" cy="52.15" r="2.9"/><circle cx="466.56" cy="52.17" r="2.9"/><circle cx="465.92" cy="52.19" r="2.9"/><circle cx="465.29" cy="52.22" r="2.9"/><circle cx="464.65" cy="52.24" r="2.9"/><circle cx="464.01" cy="52.27" r="2.9"/><circle cx="463.38" cy="52.29" r="2.9"/><circle cx="462.74" cy="52.31" r="2.9"/><circle cx="462.10" cy="52.34" r="2.9"/><circle cx="461.46" cy="52.36" r="2.9"/><circle cx="460.83" cy="52.39" r="2.9"/><circle cx="460.19" cy="52.41" r="2.9"/><circle cx="459.55" cy="52.43" r="2.9"/><circle cx="458.92" cy="52.46" r="2.9"/><circle cx="458.28" cy="52.48" r="2.9"/><circle cx="457.64" cy="52.51" r="2.9"/><circle cx="457.00" cy="52.53" r="2.9"/><circle cx="456.37" cy="52.56" r="2.9"/><circle cx="455.73" cy="52.58" r="2.9"/><circle cx="455.09" cy="52.61" r="2.9"/><circle cx="454.46" cy="52.63" r="2.9"/><circle cx="453.82" cy="52.66" r="2.9"/><circle cx="453.18" cy="52.68" r="2.9"/><circle cx="452.54" cy="52.71" r="2.9"/><circle cx="451.91" cy="52.73" r="2.9"/><circle cx="451.27" cy="52.76" r="2.9"/><circle cx="450.63" cy="52.78" r="2.9"/><circle cx="450.00" cy="52.81" r="2.9"/><circle cx="449.36" cy="52.84" r="2.9"/><circle cx="448.72" cy="52.86" r="2.9"/><circle cx="448.08" cy="52.89" r="2.9"/><circle cx="447.45" cy="52.91" r="2.9"/><circle cx="446.81" cy="52.94" r="2.9"/><circle cx="446.17" cy="52.97" r="2.9"/><circle cx="445.54" cy="52.99" r="2.9"/><circle cx="444.90" cy="53.02" r="2.9"/><circle cx="444.26" cy="53.04" r="2.9"/><circle cx="443.62" cy="53.07" r="2.9"/><circle cx="442.99" cy="53.10" r="2.9"/><circle cx="442.35" cy="53.12" r="2.9"/><circle cx="441.71" cy="53.15" r="2.9"/><circle cx="441.08" cy="53.18" r="2.9"/><circle cx="440.44" cy="53.21" r="2.9"/><circle cx="439.80" cy="53.23" r="2.9"/><circle cx="439.16" cy="53.26" r="2.9"/><circle cx="438.53" cy="53.29" r="2.9"/><circle cx="437.89" cy="53.32" r="2.9"/><circle cx="437.25" cy="53.34" r="2.9"/><circle cx="436.62" cy="53.37" r="2.9"/><circle cx="435.98" cy="53.40" r="2.9"/><circle cx="435.34" cy="53.43" r="2.9"/><circle cx="434.70" cy="53.46" r="2.9"/><circle cx="434.07" cy="53.48" r="2.9"/><circle cx="433.43" cy="53.51" r="2.9"/><circle cx="432.79" cy="53.54" r="2.9"/><circle cx="432.16" cy="53.57" r="2.9"/><circle cx="431.52" cy="53.60" r="2.9"/><circle cx="430.88" cy="53.63" r="2.9"/><circle cx="430.24" cy="53.66" r="2.9"/><circle cx="429.61" cy="53.68" r="2.9"/><circle cx="428.97" cy="53.71" r="2.9"/><circle cx="428.33" cy="53.74" r="2.9"/><circle cx="427.70" cy="53.77" r="2.9"/><circle cx="427.06" cy="53.80" r="2.9"/><circle cx="426.42" cy="53.83" r="2.9"/><circle cx="425.78" cy="53.86" r="2.9"/><circle cx="425.15" cy="53.89" r="2.9"/><circle cx="424.51" cy="53.92" r="2.9"/><circle cx="423.87" cy="53.95" r="2.9"/><circle cx="423.24" cy="53.98" r="2.9"/><circle cx="422.60" cy="54.01" r="2.9"/><circle cx="421.96" cy="54.04" r="2.9"/><circle cx="421.32" cy="54.07" r="2.9"/><circle cx="420.69" cy="54.10" r="2.9"/><circle cx="420.05" cy="54.13" r="2.9"/><circle cx="419.41" cy="54.16" r="2.9"/><circle cx="418.78" cy="54.19" r="2.9"/><circle cx="418.14" cy="54.23" r="2.9"/><circle cx="417.50" cy="54.26" r="2.9"/><circle cx="416.86" cy="54.29" r="2.9"/><circle cx="416.23" cy="54.32" r="2.9"/><circle cx="415.59" cy="54.35" r="2.9"/><circle cx="414.95" cy="54.38" r="2.9"/><circle cx="414.32" cy="54.42" r="2.9"/><circle cx="413.68" cy="54.45" r="2.9"/><circle cx="413.04" cy="54.48" r="2.9"/><circle cx="412.40" cy="54.51" r="2.9"/><circle cx="411.77" cy="54.54" r="2.9"/><circle cx="411.13" cy="54.58" r="2.9"/><circle cx="410.49" cy="54.61" r="2.9"/><circle cx="409.86" cy="54.64" r="2.9"/><circle cx="409.22" cy="54.67" r="2.9"/><circle cx="408.58" cy="54.71" r="2.9"/><circle cx="407.94" cy="54.74" r="2.9"/><circle cx="407.31" cy="54.77" r="2.9"/><circle cx="406.67" cy="54.81" r="2.9"/><circle cx="406.03" cy="54.85" r="2.9"/><circle cx="405.40" cy="54.89" r="2.9"/><circle cx="404.76" cy="54.93" r="2.9"/><circle cx="404.12" cy="54.97" r="2.9"/><circle cx="403.48" cy="55.01" r="2.9"/><circle cx="402.85" cy="55.05" r="2.9"/><circle cx="402.21" cy="55.09" r="2.9"/><circle cx="401.57" cy="55.13" r="2.9"/><circle cx="400.94" cy="55.17" r="2.9"/><circle cx="400.30" cy="55.21" r="2.9"/><circle cx="399.66" cy="55.25" r="2.9"/><circle cx="399.02" cy="55.29" r="2.9"/><circle cx="398.39" cy="55.33" r="2.9"/><circle cx="397.75" cy="55.37" r="2.9"/><circle cx="397.11" cy="55.41" r="2.9"/><circle cx="396.48" cy="55.46" r="2.9"/><circle cx="395.84" cy="55.50" r="2.9"/><circle cx="395.20" cy="55.54" r="2.9"/><circle cx="394.56" cy="55.58" r="2.9"/><circle cx="393.93" cy="55.62" r="2.9"/><circle cx="393.29" cy="55.67" r="2.9"/><circle cx="392.65" cy="55.71" r="2.9"/><circle cx="392.02" cy="55.75" r="2.9"/><circle cx="391.38" cy="55.79" r="2.9"/><circle cx="390.74" cy="55.84" r="2.9"/><circle cx="390.10" cy="55.88" r="2.9"/><circle cx="389.47" cy="55.92" r="2.9"/><circle cx="388.83" cy="55.97" r="2.9"/><circle cx="388.19" cy="56.01" r="2.9"/><circle cx="387.56" cy="56.05" r="2.9"/><circle cx="386.92" cy="56.10" r="2.9"/><circle cx="386.28" cy="56.14" r="2.9"/><circle cx="385.64" cy="56.19" r="2.9"/><circle cx="385.01" cy="56.23" r="2.9"/><circle cx="384.37" cy="56.28" r="2.9"/><circle cx="383.73" cy="56.32" r="2.9"/><circle cx="383.10" cy="56.37" r="2.9"/><circle cx="382.46" cy="56.41" r="2.9"/><circle cx="381.82" cy="56.46" r="2.9"/><circle cx="381.18" cy="56.50" r="2.9"/><circle cx="380.55" cy="56.55" r="2.9"/><circle cx="379.91" cy="56.59" r="2.9"/><circle cx="379.27" cy="56.64" r="2.9"/><circle cx="378.64" cy="56.69" r="2.9"/><circle cx="378.00" cy="56.73" r="2.9"/><circle cx="377.36" cy="56.78" r="2.9"/><circle cx="376.72" cy="56.83" r="2.9"/><circle cx="376.09" cy="56.87" r="2.9"/><circle cx="375.45" cy="56.92" r="2.9"/><circle cx="374.81" cy="56.97" r="2.9"/><circle cx="374.18" cy="57.02" r="2.9"/><circle cx="373.54" cy="57.06" r="2.9"/><circle cx="372.90" cy="57.11" r="2.9"/><circle cx="372.26" cy="57.16" r="2.9"/><circle cx="371.63" cy="57.21" r="2.9"/><circle cx="370.99" cy="57.26" r="2.9"/><circle cx="370.35" cy="57.31" r="2.9"/><circle cx="369.72" cy="57.35" r="2.9"/><circle cx="369.08" cy="57.40" r="2.9"/><circle cx="368.44" cy="57.45" r="2.9"/><circle cx="367.80" cy="57.50" r="2.9"/><circle cx="367.17" cy="57.55" r="2.9"/><circle cx="366.53" cy="57.60" r="2.9"/><circle cx="365.89" cy="57.65" r="2.9"/><circle cx="365.26" cy="57.70" r="2.9"/><circle cx="364.62" cy="57.75" r="2.9"/><circle cx="363.98" cy="57.80" r="2.9"/><circle cx="363.34" cy="57.86" r="2.9"/><circle cx="362.71" cy="57.91" r="2.9"/><circle cx="362.07" cy="57.96" r="2.9"/><circle cx="361.43" cy="58.01" r="2.9"/><circle cx="360.80" cy="58.06" r="2.9"/><circle cx="360.16" cy="58.11" r="2.9"/><circle cx="359.52" cy="58.17" r="2.9"/><circle cx="358.88" cy="58.22" r="2.9"/><circle cx="358.25" cy="58.27" r="2.9"/><circle cx="357.61" cy="58.33" r="2.9"/><circle cx="356.97" cy="58.38" r="2.9"/><circle cx="356.34" cy="58.43" r="2.9"/><circle cx="355.70" cy="58.49" r="2.9"/><circle cx="355.06" cy="58.54" r="2.9"/><circle cx="354.42" cy="58.59" r="2.9"/><circle cx="353.79" cy="58.65" r="2.9"/><circle cx="353.15" cy="58.70" r="2.9"/><circle cx="352.51" cy="58.76" r="2.9"/><circle cx="351.88" cy="58.81" r="2.9"/><circle cx="351.24" cy="58.87" r="2.9"/><circle cx="350.60" cy="58.92" r="2.9"/><circle cx="349.96" cy="58.98" r="2.9"/><circle cx="349.33" cy="59.04" r="2.9"/><circle cx="348.69" cy="59.09" r="2.9"/><circle cx="348.05" cy="59.15" r="2.9"/><circle cx="347.42" cy="59.21" r="2.9"/><circle cx="346.78" cy="59.26" r="2.9"/><circle cx="346.14" cy="59.32" r="2.9"/><circle cx="345.50" cy="59.38" r="2.9"/><circle cx="344.87" cy="59.44" r="2.9"/><circle cx="344.23" cy="59.50" r="2.9"/><circle cx="343.59" cy="59.56" r="2.9"/><circle cx="342.96" cy="59.61" r="2.9"/><circle cx="342.32" cy="59.67" r="2.9"/><circle cx="341.68" cy="59.73" r="2.9"/><circle cx="341.04" cy="59.79" r="2.9"/><circle cx="340.41" cy="59.85" r="2.9"/><circle cx="339.77" cy="59.91" r="2.9"/><circle cx="339.13" cy="59.97" r="2.9"/><circle cx="338.49" cy="60.03" r="2.9"/><circle cx="337.86" cy="60.10" r="2.9"/><circle cx="337.22" cy="60.16" r="2.9"/><circle cx="336.58" cy="60.22" r="2.9"/><circle cx="335.95" cy="60.28" r="2.9"/><circle cx="335.31" cy="60.34" r="2.9"/><circle cx="334.67" cy="60.41" r="2.9"/><circle cx="334.03" cy="60.47" r="2.9"/><circle cx="333.40" cy="60.53" r="2.9"/><circle cx="332.76" cy="60.60" r="2.9"/><circle cx="332.12" cy="60.66" r="2.9"/><circle cx="331.49" cy="60.72" r="2.9"/><circle cx="330.85" cy="60.79" r="2.9"/><circle cx="330.21" cy="60.85" r="2.9"/><circle cx="329.57" cy="60.92" r="2.9"/><circle cx="328.94" cy="60.98" r="2.9"/><circle cx="328.30" cy="61.05" r="2.9"/><circle cx="327.66" cy="61.12" r="2.9"/><circle cx="327.03" cy="61.18" r="2.9"/><circle cx="326.39" cy="61.25" r="2.9"/><circle cx="325.75" cy="61.32" r="2.9"/><circle cx="325.11" cy="61.39" r="2.9"/><circle cx="324.48" cy="61.45" r="2.9"/><circle cx="323.84" cy="61.52" r="2.9"/><circle cx="323.20" cy="61.59" r="2.9"/><circle cx="322.57" cy="61.66" r="2.9"/><circle cx="321.93" cy="61.73" r="2.9"/><circle cx="321.29" cy="61.80" r="2.9"/><circle cx="320.65" cy="61.87" r="2.9"/><circle cx="320.02" cy="61.94" r="2.9"/><circle cx="319.38" cy="62.01" r="2.9"/><circle cx="318.74" cy="62.08" r="2.9"/><circle cx="318.11" cy="62.15" r="2.9"/><circle cx="317.47" cy="62.23" r="2.9"/><circle cx="316.83" cy="62.30" r="2.9"/><circle cx="316.19" cy="62.37" r="2.9"/><circle cx="315.56" cy="62.44" r="2.9"/><circle cx="314.92" cy="62.52" r="2.9"/><circle cx="314.28" cy="62.59" r="2.9"/><circle cx="313.65" cy="62.67" r="2.9"/><circle cx="313.01" cy="62.74" r="2.9"/><circle cx="312.37" cy="62.82" r="2.9"/><circle cx="311.73" cy="62.89" r="2.9"/><circle cx="311.10" cy="62.97" r="2.9"/><circle cx="310.46" cy="63.04" r="2.9"/><circle cx="309.82" cy="63.12" r="2.9"/><circle cx="309.19" cy="63.20" r="2.9"/><circle cx="308.55" cy="63.28" r="2.9"/><circle cx="307.91" cy="63.36" r="2.9"/><circle cx="307.27" cy="63.43" r="2.9"/><circle cx="306.64" cy="63.51" r="2.9"/><circle cx="306.00" cy="63.59" r="2.9"/><circle cx="305.36" cy="63.67" r="2.9"/><circle cx="304.73" cy="63.75" r="2.9"/><circle cx="304.09" cy="63.84" r="2.9"/><circle cx="303.45" cy="63.92" r="2.9"/><circle cx="302.81" cy="64.00" r="2.9"/><circle cx="302.18" cy="64.08" r="2.9"/><circle cx="301.54" cy="64.16" r="2.9"/><circle cx="300.90" cy="64.25" r="2.9"/><circle cx="300.27" cy="64.33" r="2.9"/><circle cx="299.63" cy="64.42" r="2.9"/><circle cx="298.99" cy="64.50" r="2.9"/><circle cx="298.35" cy="64.59" r="2.9"/><circle cx="297.72" cy="64.67" r="2.9"/><circle cx="297.08" cy="64.76" r="2.9"/><circle cx="296.44" cy="64.85" r="2.9"/><circle cx="295.81" cy="64.94" r="2.9"/><circle cx="295.17" cy="65.02" r="2.9"/><circle cx="294.53" cy="65.11" r="2.9"/><circle cx="293.89" cy="65.20" r="2.9"/><circle cx="293.26" cy="65.29" r="2.9"/><circle cx="292.62" cy="65.38" r="2.9"/><circle cx="291.98" cy="65.47" r="2.9"/><circle cx="291.35" cy="65.57" r="2.9"/><circle cx="290.71" cy="65.66" r="2.9"/><circle cx="290.07" cy="65.75" r="2.9"/><circle cx="289.43" cy="65.84" r="2.9"/><circle cx="288.80" cy="65.94" r="2.9"/><circle cx="288.16" cy="66.03" r="2.9"/><circle cx="287.52" cy="66.13" r="2.9"/><circle cx="286.89" cy="66.23" r="2.9"/><circle cx="286.25" cy="66.32" r="2.9"/><circle cx="285.61" cy="66.42" r="2.9"/><circle cx="284.97" cy="66.52" r="2.9"/><circle cx="284.34" cy="66.62" r="2.9"/><circle cx="283.70" cy="66.72" r="2.9"/><circle cx="283.06" cy="66.82" r="2.9"/><circle cx="282.43" cy="66.92" r="2.9"/><circle cx="281.79" cy="67.02" r="2.9"/><circle cx="281.15" cy="67.12" r="2.9"/><circle cx="280.51" cy="67.22" r="2.9"/><circle cx="279.88" cy="67.33" r="2.9"/><circle cx="279.24" cy="67.43" r="2.9"/><circle cx="278.60" cy="67.53" r="2.9"/><circle cx="277.97" cy="67.64" r="2.9"/><circle cx="277.33" cy="67.75" r="2.9"/><circle cx="276.69" cy="67.85" r="2.9"/><circle cx="276.05" cy="67.96" r="2.9"/><circle cx="275.42" cy="68.07" r="2.9"/><circle cx="274.78" cy="68.18" r="2.9"/><circle cx="274.14" cy="68.29" r="2.9"/><circle cx="273.51" cy="68.40" r="2.9"/><circle cx="272.87" cy="68.51" r="2.9"/><circle cx="272.23" cy="68.63" r="2.9"/><circle cx="271.59" cy="68.74" r="2.9"/><circle cx="270.96" cy="68.86" r="2.9"/><circle cx="270.32" cy="68.97" r="2.9"/><circle cx="269.68" cy="69.09" r="2.9"/><circle cx="269.05" cy="69.20" r="2.9"/><circle cx="268.41" cy="69.32" r="2.9"/><circle cx="267.77" cy="69.44" r="2.9"/><circle cx="267.13" cy="69.56" r="2.9"/><circle cx="266.50" cy="69.68" r="2.9"/><circle cx="265.86" cy="69.80" r="2.9"/><circle cx="265.22" cy="69.93" r="2.9"/><circle cx="264.59" cy="70.05" r="2.9"/><circle cx="263.95" cy="70.18" r="2.9"/><circle cx="263.31" cy="70.30" r="2.9"/><circle cx="262.67" cy="70.43" r="2.9"/><circle cx="262.04" cy="70.56" r="2.9"/><circle cx="261.40" cy="70.68" r="2.9"/><circle cx="260.76" cy="70.81" r="2.9"/><circle cx="260.13" cy="70.95" r="2.9"/><circle cx="259.49" cy="71.08" r="2.9"/><circle cx="258.85" cy="71.21" r="2.9"/><circle cx="258.21" cy="71.35" r="2.9"/><circle cx="257.58" cy="71.48" r="2.9"/><circle cx="256.94" cy="71.62" r="2.9"/><circle cx="256.30" cy="71.75" r="2.9"/><circle cx="255.67" cy="71.89" r="2.9"/><circle cx="255.03" cy="72.03" r="2.9"/><circle cx="254.39" cy="72.18" r="2.9"/><circle cx="253.75" cy="72.32" r="2.9"/><circle cx="253.12" cy="72.46" r="2.9"/><circle cx="252.48" cy="72.61" r="2.9"/><circle cx="251.84" cy="72.75" r="2.9"/><circle cx="251.21" cy="72.90" r="2.9"/><circle cx="250.57" cy="73.05" r="2.9"/><circle cx="249.93" cy="73.20" r="2.9"/><circle cx="249.29" cy="73.35" r="2.9"/><circle cx="248.66" cy="73.51" r="2.9"/><circle cx="248.02" cy="73.66" r="2.9"/><circle cx="247.38" cy="73.82" r="2.9"/><circle cx="246.75" cy="73.97" r="2.9"/><circle cx="246.11" cy="74.13" r="2.9"/><circle cx="245.47" cy="74.29" r="2.9"/><circle cx="244.83" cy="74.46" r="2.9"/><circle cx="244.20" cy="74.62" r="2.9"/><circle cx="243.56" cy="74.78" r="2.9"/><circle cx="242.92" cy="74.95" r="2.9"/><circle cx="242.29" cy="75.12" r="2.9"/><circle cx="241.65" cy="75.29" r="2.9"/><circle cx="241.01" cy="75.46" r="2.9"/><circle cx="240.37" cy="75.64" r="2.9"/><circle cx="239.74" cy="75.81" r="2.9"/><circle cx="239.10" cy="75.99" r="2.9"/><circle cx="238.46" cy="76.17" r="2.9"/><circle cx="237.83" cy="76.35" r="2.9"/><circle cx="237.19" cy="76.53" r="2.9"/><circle cx="236.55" cy="76.72" r="2.9"/><circle cx="235.91" cy="76.90" r="2.9"/><circle cx="235.28" cy="77.09" r="2.9"/><circle cx="234.64" cy="77.28" r="2.9"/><circle cx="234.00" cy="77.48" r="2.9"/><circle cx="233.37" cy="77.67" r="2.9"/><circle cx="232.73" cy="77.87" r="2.9"/><circle cx="232.09" cy="78.07" r="2.9"/><circle cx="231.45" cy="78.27" r="2.9"/><circle cx="230.82" cy="78.47" r="2.9"/><circle cx="230.18" cy="78.68" r="2.9"/><circle cx="229.54" cy="78.89" r="2.9"/><circle cx="228.91" cy="79.10" r="2.9"/><circle cx="228.27" cy="79.31" r="2.9"/><circle cx="227.63" cy="79.53" r="2.9"/><circle cx="226.99" cy="79.74" r="2.9"/><circle cx="226.36" cy="79.97" r="2.9"/><circle cx="225.72" cy="80.19" r="2.9"/><circle cx="225.08" cy="80.42" r="2.9"/><circle cx="224.45" cy="80.64" r="2.9"/><circle cx="223.81" cy="80.88" r="2.9"/><circle cx="223.17" cy="81.11" r="2.9"/><circle cx="222.53" cy="81.35" r="2.9"/><circle cx="221.90" cy="81.59" r="2.9"/><circle cx="221.26" cy="81.83" r="2.9"/><circle cx="220.62" cy="82.08" r="2.9"/><circle cx="219.99" cy="82.33" r="2.9"/><circle cx="219.35" cy="82.59" r="2.9"/><circle cx="218.71" cy="82.84" r="2.9"/><circle cx="218.07" cy="83.10" r="2.9"/><circle cx="217.44" cy="83.37" r="2.9"/><circle cx="216.80" cy="83.63" r="2.9"/><circle cx="216.16" cy="83.91" r="2.9"/><circle cx="215.53" cy="84.18" r="2.9"/><circle cx="214.89" cy="84.46" r="2.9"/><circle cx="214.25" cy="84.74" r="2.9"/><circle cx="213.61" cy="85.03" r="2.9"/><circle cx="212.98" cy="85.32" r="2.9"/><circle cx="212.34" cy="85.62" r="2.9"/><circle cx="211.70" cy="85.92" r="2.9"/><circle cx="211.06" cy="86.22" r="2.9"/><circle cx="210.43" cy="86.53" r="2.9"/><circle cx="209.79" cy="86.84" r="2.9"/><circle cx="209.15" cy="87.16" r="2.9"/><circle cx="208.52" cy="87.49" r="2.9"/><circle cx="207.88" cy="87.82" r="2.9"/><circle cx="207.24" cy="88.15" r="2.9"/><circle cx="206.60" cy="88.49" r="2.9"/><circle cx="205.97" cy="88.83" r="2.9"/><circle cx="205.33" cy="89.19" r="2.9"/><circle cx="204.69" cy="89.54" r="2.9"/><circle cx="204.06" cy="89.90" r="2.9"/><circle cx="203.42" cy="90.27" r="2.9"/><circle cx="202.78" cy="90.65" r="2.9"/><circle cx="202.14" cy="91.03" r="2.9"/><circle cx="201.51" cy="91.42" r="2.9"/><circle cx="200.87" cy="91.82" r="2.9"/><circle cx="200.23" cy="92.22" r="2.9"/><circle cx="199.60" cy="92.63" r="2.9"/><circle cx="198.96" cy="93.05" r="2.9"/><circle cx="198.32" cy="93.47" r="2.9"/><circle cx="197.68" cy="93.91" r="2.9"/><circle cx="197.05" cy="94.35" r="2.9"/><circle cx="196.41" cy="94.80" r="2.9"/><circle cx="195.77" cy="95.26" r="2.9"/><circle cx="195.14" cy="95.73" r="2.9"/><circle cx="194.50" cy="96.21" r="2.9"/><circle cx="193.86" cy="96.70" r="2.9"/><circle cx="193.22" cy="97.20" r="2.9"/><circle cx="192.59" cy="97.71" r="2.9"/><circle cx="191.95" cy="98.24" r="2.9"/><circle cx="191.31" cy="98.77" r="2.9"/><circle cx="190.68" cy="99.32" r="2.9"/><circle cx="190.04" cy="99.88" r="2.9"/><circle cx="189.40" cy="100.45" r="2.9"/><circle cx="188.76" cy="101.03" r="2.9"/><circle cx="188.13" cy="101.63" r="2.9"/><circle cx="187.49" cy="102.25" r="2.9"/><circle cx="186.85" cy="102.88" r="2.9"/><circle cx="186.22" cy="103.53" r="2.9"/><circle cx="185.58" cy="104.19" r="2.9"/><circle cx="184.94" cy="104.87" r="2.9"/><circle cx="184.30" cy="105.57" r="2.9"/><circle cx="183.67" cy="106.29" r="2.9"/><circle cx="183.03" cy="107.03" r="2.9"/><circle cx="182.39" cy="107.79" r="2.9"/><circle cx="181.76" cy="108.57" r="2.9"/><circle cx="181.12" cy="109.37" r="2.9"/><circle cx="180.48" cy="110.20" r="2.9"/><circle cx="179.84" cy="111.06" r="2.9"/><circle cx="179.21" cy="111.94" r="2.9"/><circle cx="178.57" cy="112.85" r="2.9"/><circle cx="177.93" cy="113.80" r="2.9"/><circle cx="177.30" cy="114.77" r="2.9"/><circle cx="176.66" cy="115.78" r="2.9"/><circle cx="176.02" cy="116.82" r="2.9"/><circle cx="175.38" cy="117.91" r="2.9"/><circle cx="174.75" cy="119.03" r="2.9"/><circle cx="174.11" cy="120.20" r="2.9"/><circle cx="173.47" cy="121.42" r="2.9"/><circle cx="172.84" cy="122.68" r="2.9"/><circle cx="172.20" cy="124.00" r="2.9"/><circle cx="171.56" cy="125.38" r="2.9"/><circle cx="170.92" cy="126.81" r="2.9"/><circle cx="170.29" cy="128.32" r="2.9"/><circle cx="169.65" cy="129.90" r="2.9"/><circle cx="169.01" cy="131.56" r="2.9"/><circle cx="168.38" cy="133.30" r="2.9"/><circle cx="167.74" cy="135.13" r="2.9"/><circle cx="167.10" cy="137.07" r="2.9"/><circle cx="166.46" cy="139.12" r="2.9"/><circle cx="165.83" cy="141.30" r="2.9"/><circle cx="164.55" cy="146.08" r="2.9"/><circle cx="163.28" cy="151.54" r="2.9"/><circle cx="162.00" cy="157.88" r="2.9"/><circle cx="160.73" cy="165.37" r="2.9"/><circle cx="159.46" cy="174.41" r="2.9"/><circle cx="158.18" cy="185.64" r="2.9"/><circle cx="156.91" cy="201.61" r="2.9"/><circle cx="155.63" cy="223.81" r="2.9"/><circle cx="154.36" cy="260.45" r="2.9"/><circle cx="153.08" cy="346.39" r="2.9"/><circle cx="151.81" cy="367.75" r="2.9"/></g>
</g>
<g stroke="#000" stroke-width="3" fill="none" stroke-linecap="butt">
<path d="M152 11H661.5M152 373.4H661.5M152 11V373.4M661.5 11V373.4"/>
<path d="M152 252.3h5.5M152 131.6h5.5M661.5 252.3h-5.5M661.5 131.6h-5.5"/>
<path d="M280 373.4v-5.5M407.2 373.4v-5.5M534.1 373.4v-5.5M280 11v5.5M407.2 11v5.5M534.1 11v5.5M152.6 11v5.5M152.6 373.4v-5.5"/>
</g>
<g font-size="33" text-anchor="end" style="will-change:transform">
<text transform="translate(142.1,23.0) scale(1,1.055)">600</text>
<text transform="translate(142.1,143.5) scale(1,1.055)">400</text>
<text transform="translate(142.1,264.5) scale(1,1.055)">200</text>
<text transform="translate(142.1,385.9) scale(1,1.055)">0</text>
</g>
<g font-size="33" style="will-change:transform">
<text transform="translate(176.9,412.8) scale(1,1.055)" text-anchor="end">-300</text>
<text transform="translate(304.75,412.8) scale(1,1.055)" text-anchor="end">-200</text>
<text transform="translate(431.95,412.8) scale(1,1.055)" text-anchor="end">-100</text>
<text transform="translate(534.1,412.8) scale(1,1.055)" text-anchor="middle">0</text>
<text transform="translate(661.2,412.8) scale(1,1.055)" text-anchor="middle">100</text>
</g>
<g style="will-change:transform">
<text x="410.4" y="453.1" font-size="35" text-anchor="middle">Distance (m)</text>
<text transform="translate(25.3,197.3) rotate(-90)" font-size="35" text-anchor="middle">Pollen deposition</text>
<text transform="translate(70.5,192.7) rotate(-90)" font-size="35" text-anchor="middle">(grain&#183;cm<tspan font-size="25.5" dy="-16.7">-2</tspan><tspan dy="16.7">)</tspan></text>
</g>
</svg>
</body></html>
